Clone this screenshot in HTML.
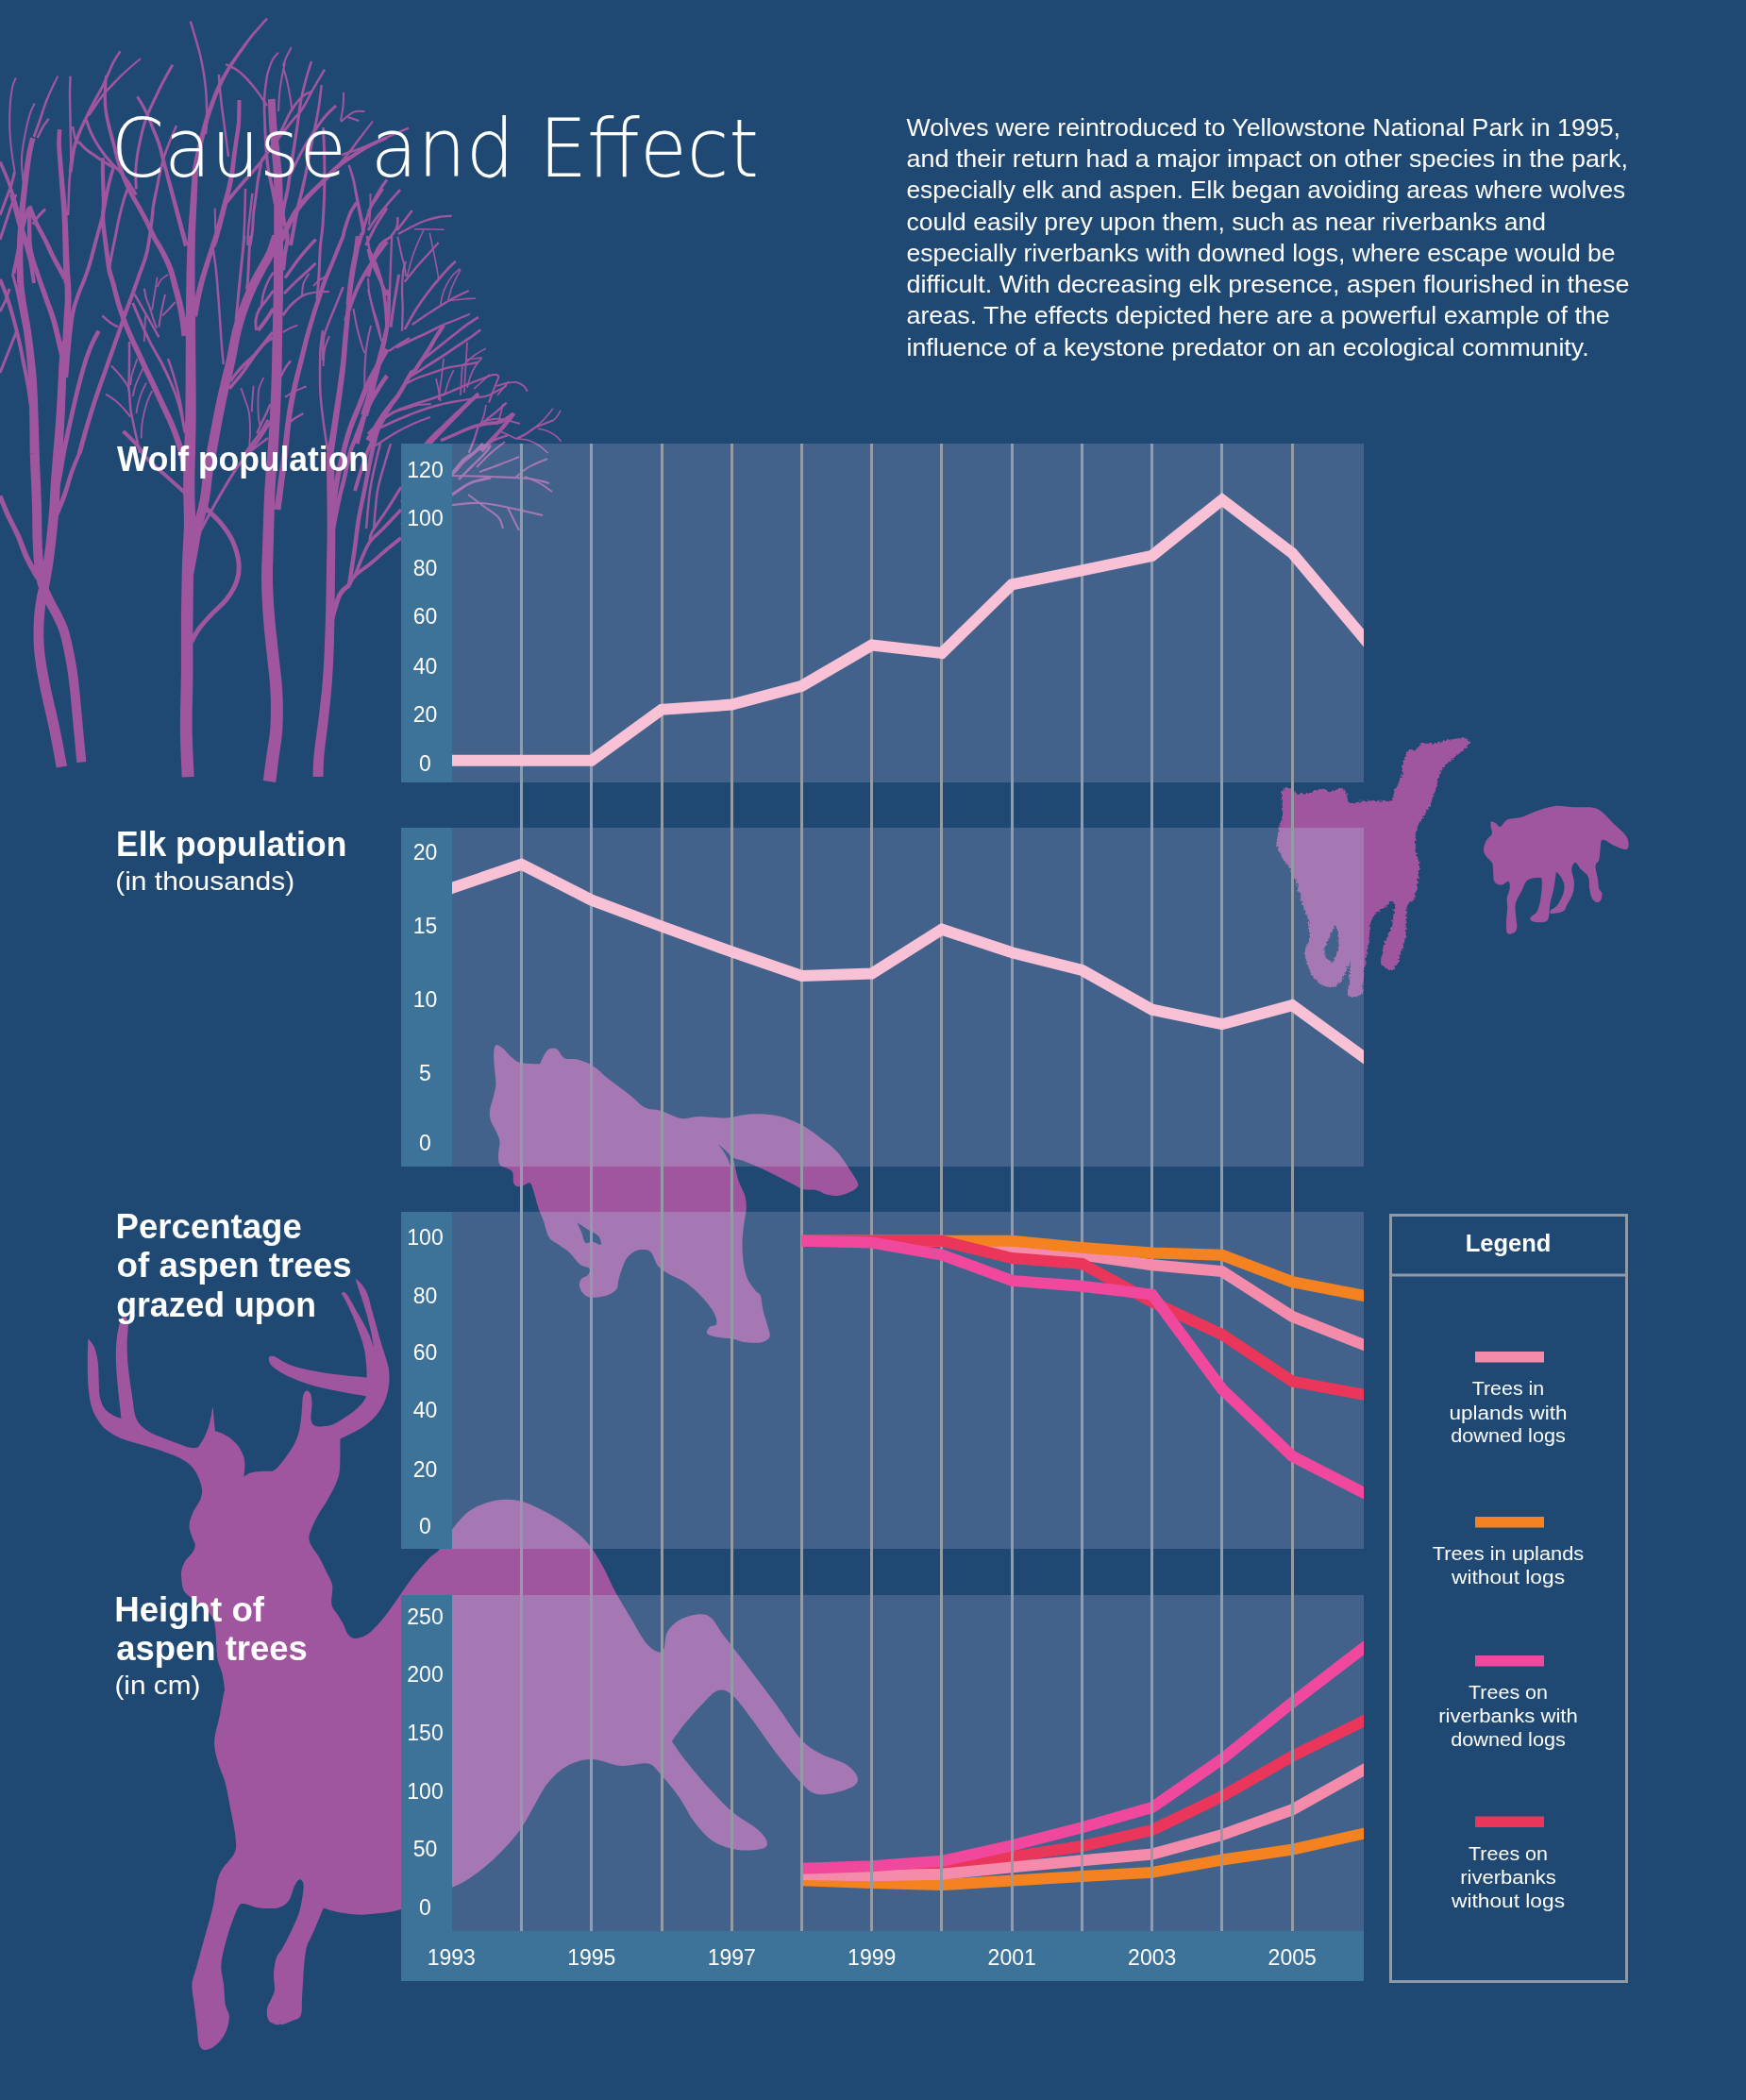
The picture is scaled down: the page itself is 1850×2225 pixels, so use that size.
<!DOCTYPE html>
<html lang="en"><head><meta charset="utf-8"><title>Cause and Effect</title>
<style>html,body{margin:0;padding:0;background:#1f4872}svg{display:block;will-change:transform}
text{font-family:"Liberation Sans",sans-serif;fill:#fff}
.b{font-weight:bold}.m{text-anchor:middle}.t{font-family:"DejaVu Sans Light","DejaVu Sans","Liberation Sans",sans-serif;font-weight:200}
</style></head><body>
<svg width="1850" height="2225" viewBox="0 0 1850 2225">
<rect width="1850" height="2225" fill="#1f4872"/>
<defs><g id="art">
<g fill="none" stroke="currentColor" stroke-linecap="butt" stroke-linejoin="round">
<path stroke-width="2.5" d="M74.6,80.7C74.5,83.6 74,89.1 74,98C74,106.9 74.4,122 74.6,134C74.8,146 75.4,160 75.2,170C75,180 73.9,184.3 73.4,194C72.9,203.7 72.4,222.3 72.2,228"/>
<path stroke-width="4" d="M0,296C1.2,299 4.8,307 7.2,314C9.6,321 12.2,330 14.4,338C16.6,346 18.6,354 20.4,362C22.2,370 23.7,378 25.3,386C26.9,394 28.8,403 30,410C31.2,417 32.1,425 32.5,428"/>
<path stroke-width="3" d="M13.2,290C14,293 16.4,301 18,308C19.6,315 21.5,325 22.9,332C24.3,339 25.9,347 26.5,350"/>
<path stroke-width="3" d="M0,395C1.7,390.8 7,377.5 10,370C13,362.5 16.7,353.3 18,350"/>
<path stroke-width="2.5" d="M39.7,146C40.7,144 43.7,137.4 45.7,134C47.7,130.6 50.7,127.2 51.7,125.8"/>
<path stroke-width="2" d="M25.3,200C24.9,195 22.8,179 22.9,170C23,161 24.5,154 25.9,146C27.3,138 29.5,128.1 31.3,122C33.1,115.9 35.8,111.6 36.7,109.5"/>
<path stroke-width="2" d="M15.6,182C15,178 12.9,166 12,158C11.1,150 10.4,142 10.2,134C10,126 10.3,117 10.8,110C11.3,103 12.2,96.6 13.2,92C14.2,87.4 16.2,84.1 16.8,82.5"/>
<path stroke-width="3.5" d="M0,171.5C0.8,173.3 3.2,178.5 4.8,182.3C6.4,186.1 8,189.9 9.6,194.3C11.2,198.7 12.8,203.8 14.4,208.8C16,213.8 17.6,218.8 19.2,224.4C20.8,230 22.2,236.4 24,242.4C25.8,248.4 29,257.5 30,260.5"/>
<path stroke-width="3" d="M0,228C1,225.3 4,217.3 6,212C8,206.7 10.4,201 12,196C13.6,191 15,184.3 15.6,182"/>
<path stroke-width="3" d="M0,254C1,251 4,242 6,236C8,230 10.2,223 12,218C13.8,213 16.2,208 17,206"/>
<path stroke-width="4" d="M30,220.8C29.2,223.4 26.7,230.8 25.3,236.4C23.9,242 22.8,248.5 21.6,254.5C20.4,260.5 19.2,266.6 18,272.5C16.8,278.4 15,287.1 14.4,290"/>
<path stroke-width="4" d="M12,206C12.8,209.1 15.2,218.3 16.8,224.4C18.4,230.5 19.8,236.4 21.6,242.4C23.4,248.4 25.9,254.5 27.7,260.5C29.5,266.5 31.1,271.9 32.5,278.5C33.9,285.1 35.4,296.4 36,300"/>
<path stroke-width="3" d="M48,221.4C46.6,222.9 41.9,227.7 39.7,230.4C37.5,233.1 35.7,236.4 34.9,237.6"/>
<path stroke-width="3" d="M0,330C1,328 4.3,322 6,318C7.7,314 9.3,308 10,306"/>
<path stroke-width="3" d="M91.4,127C92.2,129.2 94.2,135.8 96.2,140.2C98.2,144.6 100.8,149.2 103.4,153.4C106,157.6 109.1,161.9 111.9,165.5C114.7,169.1 117.7,172.2 120.3,175C122.9,177.8 124.9,179.3 127.5,182.3C130.1,185.3 133.2,189 136,193C138.8,197 142.9,204.2 144.3,206.4"/>
<path stroke-width="3" d="M83,149.8C84.4,151.2 88.6,155.9 91.4,158.3C94.2,160.7 97,162.3 99.8,164.3C102.6,166.3 104.9,168.1 108.3,170.3C111.7,172.5 118.3,176.3 120.3,177.5"/>
<path stroke-width="2.5" d="M77,134C77.5,136.3 79,145 80,148C81,151 82.5,151.3 83,152"/>
<path stroke-width="3" d="M136,198C135.2,200.4 132.6,207 131,212.4C129.4,217.8 127.7,224.4 126.3,230.4C124.9,236.4 123.9,242.5 122.7,248.5C121.5,254.5 120.2,260.5 119,266.5C117.8,272.5 116.1,281.5 115.5,284.5"/>
<path stroke-width="3" d="M140.7,321C142.3,324.8 147.2,336.7 150.4,344C153.6,351.3 156.6,358 160,364.6C163.4,371.2 167.4,377.2 170.8,383.8C174.2,390.4 177.6,397.6 180.4,404C183.2,410.4 185.6,416 187.6,422C189.6,428 191,433.9 192.4,440C193.8,446.1 195.4,455.3 196,458.4"/>
<path stroke-width="2.5" d="M142.5,311.7C144.2,314.7 149.5,323.9 152.8,329.7C156.1,335.5 159.8,341.9 162.4,346.5C165,351.1 167.4,355.6 168.4,357.4"/>
<path stroke-width="5" d="M203,679.7C204.3,677.4 207.4,670.9 211,666C214.6,661.1 219.7,655.6 224.6,650.4C229.5,645.2 235.8,640.6 240.2,634.8C244.6,628.9 248.9,621.8 251,615.3C253.1,608.8 253.7,602.9 252.9,595.7C252.1,588.5 249.1,579.1 246,572.3C242.9,565.5 238.5,559.9 234.3,554.7C230.1,549.5 224.4,544.8 220.7,541C217,537.2 213.4,533.5 212,532"/>
<path stroke-width="3" d="M211,565C214.2,559.1 223.6,541.2 230.4,529.4C237.2,517.6 244.8,504.6 252,494.2C259.2,483.8 267.9,474.4 273.4,466.9C278.9,459.4 281.9,454.1 285,449.3C288.1,444.5 290.8,439.9 292,438"/>
<path stroke-width="4" d="M197,523C193.5,519.8 182.6,510.1 175.8,504C169,497.9 161.4,491.9 156.2,486.4C151,480.9 148.7,475.7 144.5,470.8C140.3,465.9 133.1,459.3 130.8,457"/>
<path stroke-width="2.5" d="M178,380C179,383 182.2,392 184,398C185.8,404 187.4,410 188.8,416C190.2,422 191.4,428 192.4,434C193.4,440 194.4,449 194.8,452"/>
<path stroke-width="3" d="M182.8,68.6C181.2,71.5 176.2,80.3 173.2,86C170.2,91.7 167.4,97.6 164.8,103C162.2,108.4 159.6,113.8 157.6,118.6C155.6,123.4 154.2,127.2 152.8,131.8C151.4,136.4 150.3,140.8 149.1,146.2C147.9,151.6 146.4,158.3 145.5,164.3C144.6,170.3 143.9,176.3 143.7,182.3C143.5,188.3 144.2,197.4 144.3,200.4"/>
<path stroke-width="2.5" d="M225.3,260.8C225.9,265 227.8,275.8 228.9,286C230,296.2 231,310 231.9,322C232.8,334 233.5,347.3 234.3,358C235.1,368.7 236.3,381.3 236.7,386"/>
<path stroke-width="2.5" d="M201.8,22.6C202.7,25.5 205.3,34.1 207,40C208.7,45.9 210.6,52 212,58C213.4,64 214.6,70 215.6,76C216.6,82 217.4,88 218,94C218.6,100 218.8,106 219,112C219.2,118 219.2,125 219,130C218.8,135 218.2,140 218,142"/>
<path stroke-width="2.5" d="M231.9,79C232.1,81.5 232.5,88.5 233,94C233.5,99.5 234.2,106 234.9,112C235.6,118 236.5,124 237.3,130C238.1,136 238.9,142 239.7,148C240.5,154 241.6,163 242,166"/>
<path stroke-width="2.5" d="M239,68C240.9,69 247,71.4 250.5,73.7C254,76 257,79 260,82C263,85 266,88.6 268.6,91.8C271.2,95 273.4,98 275.8,101.4C278.2,104.8 281.8,110.2 283,112"/>
<path stroke-width="3" d="M259,250C258.6,254 257.3,266 256.5,274C255.7,282 254.8,290 254,298C253.2,306 252.4,315 251.7,322C251,329 250.3,337 250,340"/>
<path stroke-width="3" d="M265,250C264.8,254 264.1,266 263.7,274C263.3,282 262.9,292.6 262.5,298C262.1,303.4 261.5,305.1 261.3,306.5"/>
<path stroke-width="2.5" d="M260,200C259.9,203.4 259.7,214.1 259.5,220.5C259.3,226.9 259.3,231.9 259,238.5C258.7,245.1 257.9,256.4 257.7,260"/>
<path stroke-width="2.5" d="M267.4,204.9C267,208.5 265.7,219.9 265,226.5C264.3,233.1 263.4,238.9 263,244.5C262.6,250.1 262.6,257.4 262.5,260"/>
<path stroke-width="3" d="M277,171C276.4,174.2 274.4,184.2 273.4,190.4C272.4,196.7 271.8,202.5 271,208.5C270.2,214.5 269.2,220.5 268.6,226.5C268,232.5 268,238.9 267.4,244.5C266.8,250.1 265.4,257.4 265,260"/>
<path stroke-width="2" d="M227.7,220.5L228.3,245"/>
<path stroke-width="2" d="M302,66.5C301.4,69.1 299.6,76.4 298.6,82C297.6,87.6 296.6,94 296,100C295.4,106 295.2,115 295,118"/>
<path stroke-width="2" d="M308.8,50C307.9,51.8 304.9,57.2 303.4,60.5C301.9,63.8 300.4,68.4 299.8,70"/>
<path stroke-width="2" d="M300.4,72.5C301.1,75.1 303.4,82.8 304.6,88C305.8,93.2 306.8,99 307.6,104C308.4,109 309.2,115.7 309.5,118"/>
<path stroke-width="3" d="M308,184C310,180 316.2,167 320,160C323.8,153 327,148 331,142C335,136 339.8,129 344,124C348.2,119 354,114 356,112"/>
<path stroke-width="2.5" d="M362,164C365,163 374,160.2 380,158C386,155.8 389.2,154.4 398,150.7C406.8,147 427.2,138.1 433,135.6"/>
<path stroke-width="3" d="M342.5,135C342.7,140.2 343.5,154.8 343.7,166C343.9,177.2 344,189.9 343.7,202C343.4,214.1 342.7,228.8 342,238.5C341.3,248.2 340.2,251.4 339.5,260C338.8,268.6 338.6,280.5 338,290C337.4,299.5 336.3,312.5 336,317"/>
<path stroke-width="2" d="M364,97.8C363.9,100.2 364.1,107 363.6,112C363.1,117 361.4,125.3 361,128"/>
<path stroke-width="2" d="M361,129C363.2,127.3 370.2,120.6 374.4,118.8C378.6,117 384.4,118.1 386.4,118"/>
<path stroke-width="2" d="M368.4,124L380.4,128"/>
<path stroke-width="3.5" d="M302,294.5C304,291.7 310,282.9 314,277.7C318,272.4 322.6,267 326,263C329.4,259 333.2,255.2 334.7,253.6"/>
<path stroke-width="3" d="M301,311C303.2,308.8 309.8,302 314,298C318.2,294 322.6,290.2 326,287C329.4,283.8 333.2,280.2 334.7,278.9"/>
<path stroke-width="2" d="M320,313.7C320.2,311.5 320.2,304.5 321.5,300.5C322.8,296.5 326.5,291.5 327.5,289.7"/>
<path stroke-width="2" d="M332,303C333,302 335.7,298.7 338,297C340.3,295.3 344.7,293.4 346,292.7"/>
<path stroke-width="2" d="M299.8,352C301.2,351.2 305.4,348.7 308,347.4C310.6,346.1 314.2,344.9 315.5,344.4"/>
<path stroke-width="2.5" d="M297.4,399C298.4,397.2 301.6,391.1 303.4,388.3C305.2,385.5 307.2,383.3 308,382.3"/>
<path stroke-width="2" d="M302,420.8C303.6,419.8 308.1,416.7 311.9,414.8C315.6,412.9 322.4,410.3 324.5,409.4"/>
<path stroke-width="2.5" d="M302.8,451C304.3,449.8 308.8,445.8 311.9,443.6C315,441.4 319.9,438.9 321.5,438"/>
<path stroke-width="2.5" d="M289.6,288.5C288.7,290.1 285.7,294.4 284,298C282.3,301.6 280.6,305.8 279.4,310C278.2,314.2 277.4,321.2 277,323.4"/>
<path stroke-width="3" d="M290,307.7C288.6,309.5 284.4,315.2 281.8,318.6C279.2,322 276.4,324.6 274.6,328C272.8,331.4 271.5,335.3 271,339C270.5,342.7 271.5,348.2 271.6,350"/>
<path stroke-width="4" d="M289.6,327C288.3,329 284.5,335.2 281.8,339C279.1,342.8 274.8,348.2 273.4,350"/>
<path stroke-width="3.5" d="M289,352C287.4,354 282.6,360 279.4,364C276.2,368 273.2,372.3 269.8,376C266.4,379.7 262.3,382.7 259,386C255.7,389.3 252.5,393 250,396C247.5,399 245,402.7 244,404"/>
<path stroke-width="3.5" d="M290,358C289,358.4 286.6,358.7 284,360.7C281.4,362.7 277.6,366.4 274.6,370C271.6,373.6 268.8,378 266,382C263.2,386 260.1,390.8 257.7,394C255.3,397.2 254.1,398.5 251.7,401.5C249.2,404.5 244.4,410.2 243,412"/>
<path stroke-width="2.5" d="M363.6,304C362.4,307 358.8,316 356.4,322C354,328 351.2,334 349,340C346.8,346 344.2,351 343,358C341.8,365 342.2,378 342,382"/>
<path stroke-width="2.5" d="M342,350C341.6,353.3 340,362.7 339.5,370C339,377.3 339,386 339,394C339,402 339,410 339.5,418C340,426 341,433.9 342,442C343,450.1 344.5,460.2 345.5,466.5C346.5,472.8 347.6,477.8 348,480"/>
<path stroke-width="2" d="M349,356C348.2,358.3 345.1,364.7 344,370C342.9,375.3 342.8,385 342.5,388"/>
<path stroke-width="1.8" d="M255.3,411C256.1,413.2 258.6,420.2 260,424.4C261.4,428.6 262.9,431.4 263.7,436.4C264.5,441.4 264.9,448.5 265,454.5C265.1,460.5 264.4,469.5 264.3,472.5"/>
<path stroke-width="1.8" d="M268.6,408.8C268.4,411.4 267.7,419.8 267.4,424.4C267.1,429 266.9,434.4 266.8,436.4"/>
<path stroke-width="1.8" d="M279.4,400C278.6,401.8 275.6,406.9 274.6,411C273.6,415.1 273.5,419.2 273.4,424.4C273.3,429.6 273.6,437.8 274,442.4C274.4,447 275.5,450.4 275.8,452"/>
<path stroke-width="2.5" d="M286.6,428C285.8,429.8 283.4,435.4 281.8,438.8C280.2,442.2 278.6,445.1 277,448.5C275.4,451.9 273,457.5 272.2,459.3"/>
<path stroke-width="3" d="M284,444.8C282.8,446.8 279.4,453.3 277,456.9C274.6,460.5 272,463.5 269.8,466.5C267.6,469.5 265.3,472.8 263.7,475C262.1,477.2 260.6,479.2 260,480"/>
<path stroke-width="2.5" d="M284,464C282.4,465.2 277.8,468.6 274.6,471C271.4,473.4 266.6,477.2 265,478.5"/>
<path stroke-width="2.5" d="M378,250C377.6,253 376.6,262 375.6,268C374.6,274 373,280 372,286C371,292 370.3,298 369.6,304C368.9,310 368.1,319 367.8,322"/>
<path stroke-width="4" d="M366,340C367,337 369.8,328 372,322C374.2,316 376.6,309.6 379.2,304C381.8,298.4 384.4,293.9 387.6,288.5C390.8,283.1 394.8,277.1 398.5,271.7C402.2,266.3 408.1,258.6 410,256"/>
<path stroke-width="2.5" d="M388.8,250C389.4,253 390.8,262 392.4,268C394,274 396.5,280.4 398.5,286C400.5,291.6 402.6,297.7 404.5,301.7C406.4,305.7 409.1,308.6 410,310"/>
<path stroke-width="2" d="M390,294.5C390.2,297.1 390.4,304.4 391.2,310C392,315.6 393.5,322 394.9,328C396.3,334 398.1,340.3 399.7,346C401.3,351.7 403.7,359.3 404.5,362"/>
<path stroke-width="2" d="M374.4,327C375,330.2 376.6,339.8 378,346C379.4,352.2 381.4,359.3 382.8,364C384.2,368.7 385.8,372.3 386.4,374"/>
<path stroke-width="2" d="M393,345C392.5,347.2 390.9,353.2 390,358C389.1,362.8 388.2,368 387.6,374C387,380 386.6,386.6 386.4,394C386.2,401.4 386.4,414.3 386.4,418.4"/>
<path stroke-width="2" d="M392.4,205C392.4,207.6 392.6,214.9 392.4,220.5C392.2,226.1 391.2,235.5 391,238.5"/>
<path stroke-width="3" d="M410,190.4C408.7,192.3 404.9,197 402,202C399.1,207 395,214.4 392.4,220.5C389.8,226.6 388.4,231.9 386.4,238.5C384.4,245.1 381.4,256.4 380.4,260"/>
<path stroke-width="3" d="M410,220.5C408.1,223.5 402.2,231.9 398.5,238.5C394.8,245.1 389.4,256.4 387.6,260"/>
<path stroke-width="5.5" d="M352,545C352.8,539.2 355.1,520.8 357,510C358.9,499.2 361.3,489.2 363.6,480C365.9,470.8 368,462.8 370.8,454.5C373.6,446.2 377.2,438.4 380.4,430.4C383.6,422.4 386.8,413.4 390,406.4C393.2,399.4 396.4,394.4 399.7,388.3C403,382.2 408.3,373.1 410,370"/>
<path stroke-width="4.5" d="M353,560C354,555 357.2,538.3 359,530C360.8,521.7 362,518.3 364,510C366,501.7 368.7,487.7 370.8,480C372.9,472.3 374.8,469.2 376.8,464C378.8,458.8 380.8,453.5 382.8,448.5C384.8,443.5 386.8,438.4 388.8,434C390.8,429.6 392.7,426 394.9,422C397.1,418 399.5,414 402,410C404.5,406 408.7,400 410,398"/>
<path stroke-width="4" d="M376,520C377,516.7 379.9,506.7 382,500C384.1,493.3 386.7,485.6 388.8,480C390.9,474.4 392.7,471.2 394.9,466.5C397.1,461.8 399.5,456.8 402,452C404.5,447.2 408.7,440 410,437.6"/>
<path stroke-width="5" d="M352,655C353.3,650.8 357,635.8 360,630C363,624.2 368.3,621.7 370,620"/>
<path stroke-width="4" d="M370,620C371,618.3 372,614 376,610C380,606 388.3,600.7 394,596C399.7,591.3 404.8,586.3 410,582C415.2,577.7 422.5,572 425,570"/>
<path stroke-width="4.5" d="M370,620C370.5,616.7 372,606.7 373,600C374,593.3 374.8,588.3 376,580C377.2,571.7 378.3,560 380,550C381.7,540 383.7,531.7 386,520C388.3,508.3 391.3,491.7 394,480C396.7,468.3 398.7,458.3 402,450C405.3,441.7 412,433.3 414,430"/>
<path stroke-width="3.5" d="M376,610C377.3,606.7 381.3,596 384,590C386.7,584 388.3,579 392,574C395.7,569 400.5,565.7 406,560C411.5,554.3 421.8,543.3 425,540"/>
<path stroke-width="3" d="M392,574C392.3,572.3 391,569.7 394,564C397,558.3 404.8,548 410,540C415.2,532 422.5,520 425,516"/>
<path stroke-width="2.5" d="M388,560C388.7,553.3 390.3,531.7 392,520C393.7,508.3 396.2,498.3 398,490C399.8,481.7 402.2,473.3 403,470"/>
<path stroke-width="2.5" d="M396,560C396.7,553.3 398,531.7 400,520C402,508.3 405.7,498.3 408,490C410.3,481.7 413,473.3 414,470"/>
<path stroke-width="5.1" d="M378,470L386,440"/>
<path stroke-width="3.5" d="M410,346.7C409.8,343.4 409.4,333.4 408.7,326.7C408,320 407.3,313.4 406,306.7C404.7,300 402.5,292.3 400.7,286.7C398.9,281.1 397.1,277.1 395.3,273.3C393.5,269.5 390.9,265.6 390,264"/>
<path stroke-width="2.3" d="M412,340C412.1,336.7 412.5,326.7 412.7,320C412.9,313.3 413.1,306.7 413.3,300C413.5,293.3 413.8,286.7 414,280C414.2,273.3 414.5,264.9 414.7,260C414.9,255.1 415.2,252.2 415.3,250.7"/>
<path stroke-width="3.1" d="M414,346.7C414.4,343.4 415.7,333.4 416.7,326.7C417.7,320 419,312.7 420,306.7C421,300.7 422.2,293.4 422.7,290.7"/>
<path stroke-width="2.3" d="M426,350.7C426.1,346.7 426.7,334 426.7,326.7C426.7,319.4 425.9,313.4 426,306.7C426.1,300 426.6,291.6 427.3,286.7C428,281.8 429.6,278.6 430,277"/>
<path stroke-width="2.7" d="M420.7,244L436.7,223"/>
<path stroke-width="2.3" d="M422,248C424.4,246.7 432,242.3 436.7,240C441.4,237.7 445.3,235.7 450,234C454.7,232.3 459.9,230.9 464.7,230C469.5,229.1 476.4,228.9 478.7,228.7"/>
<path stroke-width="1.6" d="M439,242.7C441.9,242.8 451.4,242.9 456.7,243C462,243.1 468.4,243.2 470.7,243.3"/>
<path stroke-width="2.7" d="M390,244C391.3,242 394.7,236.5 398,232C401.3,227.5 405.7,222.2 410,217C414.3,211.8 421.7,203.7 424,201"/>
<path stroke-width="2.3" d="M390,224C391.3,222 395.3,216 398,212C400.7,208 404.7,202 406,200"/>
<path stroke-width="3.1" d="M390,264C390.4,265.8 391.4,270.9 392.7,274.7C394,278.5 396,282.3 398,286.7C400,291.1 402.7,296.6 404.7,301C406.7,305.4 409.1,311 410,313"/>
<path stroke-width="2" d="M390,306.7C390.9,310 393.5,320.5 395.3,326.7C397.1,332.9 399.4,338.9 400.7,344C402,349.1 402.9,354.8 403.3,357"/>
<path stroke-width="2" d="M421.3,250.7C421.9,253.4 423.5,261.4 424.7,266.7C425.9,272 427.8,278.3 428.7,282.7C429.6,287.1 429.8,291.3 430,293"/>
<path stroke-width="1.6" d="M448.7,244C447.8,246 445.1,251.8 443.3,256C441.5,260.2 439.6,264.6 438,269C436.4,273.4 435.1,278.7 434,282.7C432.9,286.7 431.8,291.3 431.3,293"/>
<path stroke-width="1.6" d="M455.3,246.7C455.8,248.9 457.1,255.6 458,260C458.9,264.4 459.8,268.6 460.7,273C461.6,277.4 462.6,282.9 463.3,286.7C464,290.5 464.5,294.4 464.7,296"/>
<path stroke-width="2.3" d="M464.7,257C462.9,259 457.6,265 454,269C450.4,273 446.3,277.2 443,281C439.7,284.8 436.4,289.1 434,292C431.6,294.9 429.6,297.6 428.7,298.7"/>
<path stroke-width="2.7" d="M428.7,349C430.7,345.5 436.7,334.4 440.7,328C444.7,321.6 448.7,316 452.7,310.7C456.7,305.4 460.9,300.4 464.7,296C468.5,291.6 472.3,287.2 475.3,284C478.3,280.8 481.5,277.9 482.7,276.7"/>
<path stroke-width="2.3" d="M436.7,344C438.9,342.4 445.3,337.8 450,334.7C454.7,331.6 460.5,328 464.7,325.3C468.9,322.6 471.8,320.8 475.3,318.7C478.9,316.6 482.4,314.8 486,313C489.6,311.2 494.9,308.8 496.7,308"/>
<path stroke-width="1.6" d="M475,318.7C477.5,318.4 485.2,317.4 490,317C494.8,316.6 501.7,316.2 504,316"/>
<path stroke-width="1.6" d="M466.7,324C467,322.2 467.7,316.6 468.7,313C469.7,309.4 470.9,306.2 472.7,302.7C474.5,299.2 476.9,295 479.3,292C481.7,289 486,285.9 487.3,284.7"/>
<path stroke-width="1.6" d="M474.7,318.7C475.2,316.7 476.6,310.7 478,306.7C479.4,302.7 481.6,298.3 483.3,294.7C485,291.1 487.2,286.9 488,285.3"/>
<path stroke-width="2.3" d="M412,372C414,370.7 420.3,366.3 424,364C427.7,361.7 432.3,359 434,358"/>
<path stroke-width="4.2" d="M430,405C430.7,403.8 432.2,400.4 434,398C435.8,395.6 438.7,393.2 440.7,390.7C442.7,388.1 443.8,386 446,382.7C448.2,379.4 451.3,375 454,370.7C456.7,366.4 459.3,361.3 462,357C464.7,352.7 468.7,346.8 470,344.7"/>
<path stroke-width="2.7" d="M446,382.7C448.2,380.9 454.9,375.6 459.3,372C463.8,368.4 468.2,364.9 472.7,361.3C477.1,357.8 482,353.8 486,350.7C490,347.6 493.2,345.1 496.7,342.7C500.1,340.2 505,337.1 506.7,336"/>
<path stroke-width="2.7" d="M435.3,398.7C437.8,397.1 445.1,392.4 450,389.3C454.9,386.2 459.6,383.3 464.7,380C469.8,376.7 475.4,372.9 480.7,369.3C486,365.8 491.9,362 496.7,358.7C501.5,355.4 507.2,350.9 509.3,349.3"/>
<path stroke-width="2.3" d="M427.3,408C430,406.7 438,402.2 443.3,400C448.6,397.8 454,396.5 459.3,394.7C464.6,392.9 470,390.6 475.3,389.3C480.6,388 486.2,387.6 491.3,386.7C496.4,385.8 503.6,384.4 506,384"/>
<path stroke-width="1.6" d="M491,386.7C493.1,384.9 499.4,378.9 503.3,376C507.2,373.1 512.8,370.4 514.7,369.3"/>
<path stroke-width="1.6" d="M494,381C495.3,380.8 499.2,380.3 502,380C504.8,379.7 509.2,379.2 510.7,379"/>
<path stroke-width="2" d="M528.7,398.7C527.8,401.1 524.8,408.3 523,413C521.2,417.7 518.8,424.4 518,426.7"/>
<path stroke-width="2" d="M526,409C527.8,408.5 533.2,406.7 536.7,406C540.2,405.3 544,404.5 547,405C550,405.5 553,407.4 555,409C557,410.6 558.1,413.8 558.7,414.7"/>
<path stroke-width="4.2" d="M510,478C511.3,476.5 514.7,472.7 518,469C521.3,465.3 525.5,461.2 530,456C534.5,450.8 542.2,441 544.7,438"/>
<path stroke-width="2" d="M415,437C417.5,436.3 425.3,434.3 430,433C434.7,431.7 438.6,429.8 443,429C447.4,428.2 454.4,428.2 456.7,428"/>
<path stroke-width="2.3" d="M398,472C401.7,469.7 413,462 420,458C427,454 434,450.7 440,448C446,445.3 453.3,443 456,442"/>
<path stroke-width="1.7" d="M470,380C469.8,382.2 469.2,388.3 468.7,393C468.1,397.7 467.4,402.8 466.7,408C466,413.2 465,421.3 464.7,424"/>
<path stroke-width="1.7" d="M495,362.7C494.8,365.6 494.4,373.8 494,380C493.6,386.2 493,394 492.7,400C492.4,406 492.1,413.3 492,416"/>
<path stroke-width="1.7" d="M462,401C462.4,403 463.9,409 464.7,413C465.5,417 466.4,423 466.7,425"/>
<path stroke-width="1.7" d="M480.7,392C479.8,394.2 476.6,400.6 475,405C473.4,409.4 471.7,416.4 471,418.7"/>
<path stroke-width="1.7" d="M490,386.7C489.8,388.9 489.3,394.7 489,400C488.7,405.3 488.2,415.6 488,418.7"/>
<path stroke-width="1.7" d="M510.7,379C509.4,380.7 505.1,385.5 503,389C500.9,392.5 499.3,396.4 498,400C496.7,403.6 495.5,408.9 495,410.7"/>
<path stroke-width="1.7" d="M518.7,396.7C517.2,398.1 512.8,402.4 510,405C507.2,407.6 503.3,410.8 502,412"/>
<path stroke-width="1.7" d="M539,404C538,405.3 534.7,409.6 532.7,412C530.7,414.4 528,417.6 527,418.7"/>
<path stroke-width="1.7" d="M533,428C532.5,430 531,436.3 530,440C529,443.7 527.5,448.3 527,450"/>
<path stroke-width="1.7" d="M515,429C514.6,430.8 513.8,436.4 512.7,440C511.7,443.6 509.4,448.9 508.7,450.7"/>
<path stroke-width="1.7" d="M530,457C531.5,457.7 536.2,459.7 539,461C541.8,462.3 545.7,464.3 547,465"/>
<path stroke-width="2.3" d="M536.7,426.7C534.4,428.7 527,435.4 523,438.7C519,442 514.4,445.4 512.7,446.7"/>
<path stroke-width="2" d="M506,450.7C508,449.8 513.8,446.1 518,445C522.2,443.9 526.8,443.7 531,444C535.2,444.3 539.7,445.9 543,446.7C546.3,447.5 549.7,448.6 551,449"/>
<path stroke-width="2.3" d="M547,465C548.6,464.2 553.4,462 556.7,460C560,458 563.7,454.8 567,453C570.3,451.2 573.4,450.3 576.7,449C580,447.7 585.3,445.7 587,445"/>
<path stroke-width="1.6" d="M567,453C568.6,451.5 573.5,447.4 576.7,444C579.9,440.6 584.5,434.6 586,432.7"/>
<path stroke-width="1.6" d="M587,445C587.7,444.2 589.8,441.7 591,440C592.2,438.3 593.5,435.6 594,434.7"/>
<path stroke-width="1.6" d="M570,454C571.8,454.5 577.4,455.6 580.7,457C584,458.4 587.7,460.9 590,462.7C592.3,464.5 593.9,467.1 594.7,468"/>
<path stroke-width="1.6" d="M548.7,464.7C550.7,465 557,465.5 560.7,466.7C564.4,467.9 567.7,469.8 571,472C574.3,474.2 579.1,478.7 580.7,480"/>
<path stroke-width="2.3" d="M539,461C536.3,461.9 527.8,464.4 523,466.7C518.2,469 513.5,472.5 510,474.7C506.5,476.9 503.3,479.1 502,480"/>
<path stroke-width="2.3" d="M507,450.7C506.3,452.9 504.7,459.1 503,464C501.3,468.9 497.8,477.3 496.7,480"/>
<path stroke-width="3.5" d="M425,532C429.5,529.3 443,521 452,516C461,511 472.7,506.3 479,502C485.3,497.7 486.2,493.7 490,490C493.8,486.3 498.3,483.3 502,480C505.7,476.7 510.3,471.7 512,470"/>
<path stroke-width="3" d="M425,556C429.5,553.3 443,545.3 452,540C461,534.7 471.3,528.7 479,524C486.7,519.3 491.2,515 498,512C504.8,509 516.3,507 520,506"/>
<path stroke-width="2.2" d="M479,504C485.8,504.2 506.5,504.5 520,505C533.5,505.5 549.7,505.8 560,507C570.3,508.2 578.3,511.2 582,512"/>
<path stroke-width="2.2" d="M479,535C484.2,534.7 499.8,532.5 510,533C520.2,533.5 529.2,535.8 540,538C550.8,540.2 569.2,544.7 575,546"/>
<path stroke-width="2" d="M505,495C507.5,492.5 515,484.5 520,480C525,475.5 532.5,470 535,468"/>
<path stroke-width="2" d="M508,500C511.7,498.7 523,494.7 530,492C537,489.3 546.7,485.3 550,484"/>
<path stroke-width="2" d="M545,507C547.5,505 554.2,498.5 560,495C565.8,491.5 576.7,487.5 580,486"/>
<path stroke-width="2" d="M556,505C558.7,506.2 567.2,509.3 572,512C576.8,514.7 582.8,519.5 585,521"/>
<path stroke-width="2" d="M496,524C498.7,526 506.7,532 512,536C517.3,540 524.5,544 528,548C531.5,552 532.2,558 533,560"/>
<path stroke-width="2" d="M538,538C539.2,540.3 543,548 545,552C547,556 549.2,560.3 550,562"/>
<path stroke-width="2.5" d="M480,500C482,497.7 488.3,489.3 492,486C495.7,482.7 500.3,481 502,480"/>
<path stroke-width="2.5" d="M486,508C488.3,505.7 495.3,498.7 500,494C504.7,489.3 510.7,483.7 514,480C517.3,476.3 519,473.3 520,472"/>
<path stroke-width="2.5" d="M138.3,434C138.1,431 137.3,420 137,416C136.7,412 136.5,415 136.5,410C136.5,405 136.9,394 137,386C137.1,378 137,366 137,362"/>
<path stroke-width="2.5" d="M148,480C147.6,478 146.5,472.7 145.5,468C144.5,463.3 143.2,457.7 142,452C140.8,446.3 138.9,437 138.3,434"/>
<path stroke-width="2" d="M117.9,387.4C119.5,389.2 124.7,394.6 127.5,398C130.3,401.4 133.1,404.9 134.7,407.9C136.3,410.9 136.6,414.6 137,416"/>
<path stroke-width="2" d="M111.9,417.5C113.7,418.7 119.5,422.1 122.7,424.7C125.9,427.3 128.4,430.2 131,433C133.6,435.8 137.1,440.2 138.3,441.6"/>
<path stroke-width="3" d="M130.5,457C131.6,458 134.7,460.8 137,463C139.3,465.2 143.1,469.2 144.3,470.4"/>
<path stroke-width="2.5" d="M108.3,334.5C109.7,335.7 113.9,339.7 116.7,341.7C119.5,343.7 123.6,345.7 125,346.5"/>
<path stroke-width="2" d="M152.8,305.6C153.2,307.4 154,313.1 155,316.5C156,319.9 157.6,322.4 158.8,326C160,329.6 161.2,334.4 162.4,338C163.6,341.6 165.4,346.1 166,347.7"/>
<path stroke-width="1.8" d="M154,334.5C153.9,337.1 153.6,345.4 153.4,350C153.2,354.6 152.9,360 152.8,362"/>
<path stroke-width="1.8" d="M145.5,380C144.9,381.7 143,387 142,390C141,393 140.1,395 139.5,398C138.9,401 138.5,406.3 138.3,408"/>
<path stroke-width="1.8" d="M151.6,390C150.8,391.8 148.1,397.4 146.7,400.7C145.3,404 144,406.8 143,410C142,413.2 141.1,418.3 140.7,420"/>
<path stroke-width="1.8" d="M155,405.5C154.2,407.1 151.8,411.6 150.4,415C149,418.4 147.7,422.2 146.7,426C145.7,429.8 144.7,436 144.3,438"/>
<path stroke-width="1.8" d="M161.2,414C160.4,415.8 157.8,420.9 156.4,424.7C155,428.5 153.8,432.5 152.8,436.7C151.8,440.9 150.9,445.4 150.4,450C149.9,454.6 149.8,462 149.7,464.4"/>
<path stroke-width="1.8" d="M166.6,293.6C166.3,295.6 165.5,301.2 164.8,305.6C164.1,310 163,316.2 162.4,320C161.8,323.8 161.4,327.1 161.2,328.5"/>
<path stroke-width="2" d="M175,312C174.5,314.2 172.9,320.7 172,325C171.1,329.3 170.2,334.4 169.6,338C169,341.6 168.6,345.1 168.4,346.5"/>
<path stroke-width="2" d="M185.8,320C184.5,321.4 180.3,326.1 178,328.5C175.7,330.9 173,333.5 172,334.5"/>
<path stroke-width="1.8" d="M178,291C176.8,291.8 172.9,293.8 171,296C169.1,298.2 167.3,302.7 166.6,304"/>
</g>
<path fill="currentColor" d="M71.1,811.5L69,800.8L66.2,785.5L63.1,770.3L60.2,757.1L57.1,744.1L54.3,731.3L51.6,718L49.2,704.7L47.4,692.8L46.6,682.7L46.3,673.8L46.4,665.1L46.7,656.7L47.4,648.8L48.3,640.8L49.7,632.7L51.5,624.4L53.2,616L54.6,607.7L55.9,599.5L57.2,590.7L58.4,580.7L59.6,570.2L60.7,560.5L61.4,552.4L62.1,545.1L62.6,537.3L63.1,528.7L63.5,519.6L64.1,510.3L64.8,499.5L65.7,488.3L66.3,480.4L56.3,479.6L55.7,487.5L54.8,498.7L53.9,509.7L53.4,519.1L52.9,528.1L52.4,536.7L51.8,544.3L51.2,551.5L50.3,559.5L49.3,569.1L48.1,579.5L46.8,589.3L45.5,597.9L44.2,606L42.8,614L41.1,622.2L39.2,630.6L37.7,639.2L36.6,647.7L35.9,656.1L35.6,664.9L35.5,673.9L35.7,683.3L36.6,694L38.3,706.5L40.7,720L43.3,733.5L46.2,746.6L49.2,759.6L52.1,772.7L55,787.6L57.8,802.8L59.7,813.5Z M41.7,479.9L41.5,471.2L41.1,458.6L40.7,445.9L40.3,433.8L39.9,421.5L39.3,409.8L38.6,399.2L37.7,389.4L36.6,379.6L35.5,369.5L34.2,359.5L32.8,349.4L31.1,339L29.2,328.6L27.6,319.5L26.5,311.4L25.6,304.4L25.1,299.6L18.1,300.4L18.6,305.2L19.4,312.3L20.4,320.5L21.8,329.9L23.5,340.3L25,350.6L26.3,360.5L27.4,370.5L28.4,380.4L29.2,390.2L29.9,399.9L30.5,410.2L30.9,421.8L31.1,434L31.3,446.1L31.5,458.8L31.6,471.4L31.7,480.1Z M25.1,299.9L24.8,291.3L24.4,279.1L24.3,266.6L24.7,254.6L25.3,242.3L26.1,230.6L26.9,220L27.9,210.1L28.9,200.7L29.9,192.1L30.8,184L31.8,176.7L32.7,170.1L33.7,164.1L34.7,158.9L35.7,154L36.8,149.8L37.6,146.9L32.2,145.5L31.4,148.4L30.3,152.7L29.1,157.7L28.1,163.1L27.1,169.2L26,175.9L25,183.3L23.9,191.4L22.9,200.1L21.8,209.4L20.7,219.4L19.7,230.2L18.9,241.9L18.1,254.3L17.7,266.4L17.6,279.1L17.9,291.5L18.1,300.1Z M91.3,807.1L90.2,795.3L88.6,778.4L87,761.2L85.5,744.9L83.9,728.1L82,712.3L79.5,697.6L76.8,684L74.1,672.6L71.7,664.5L69.2,658.5L66.5,652.8L63.2,646.3L59.7,639.9L56.5,633.8L53.7,628L51.3,622.5L49.3,616.7L47.9,610.2L46.8,603.1L46,595.5L45.3,587.5L44.8,579.1L44.5,569.9L44.3,559.6L44.2,548.5L44,536.9L43.5,524.1L43,511L42.5,499.8L42.1,491.1L41.9,484.4L41.7,479.8L31.7,480.2L31.9,484.8L32.2,491.5L32.5,500.2L33,511.4L33.6,524.5L34,537.1L34.2,548.6L34.3,559.7L34.5,570.1L34.9,579.6L35.3,588.2L36,596.5L36.9,604.4L38,612L39.7,619.3L41.9,626.1L44.6,632.2L47.5,638.2L50.8,644.6L54.4,651L57.5,657.2L60,662.6L62.2,667.8L64.5,675.2L67,686.1L69.7,699.4L72,713.7L73.9,729.2L75.5,745.8L77,762.2L78.7,779.4L80.2,796.3L81.3,808.1Z M66.3,480.4L66.8,471.6L67.6,459.1L68.3,446.3L68.9,434.2L69.3,421.8L69.8,410.2L70,399.3L70.3,389.1L70.7,380.4L71.6,373L72.7,366.9L73.5,362.7L66.1,361.3L65.2,365.5L64,371.8L62.9,379.6L62.2,388.7L61.8,399L61.2,409.8L60.6,421.4L59.9,433.7L59.1,445.7L58.1,458.4L57.1,470.9L56.3,479.6Z M70.5,384.6L71.3,378.9L72.5,370.8L73.4,362.3L73.9,354.3L74.2,346.2L74.5,338.2L74.9,330.2L75.4,322.2L75.6,314L75.3,305L74.7,296L74.2,289.8L67.8,290.2L68.1,296.4L68.6,305.3L68.8,314L68.6,321.8L68,329.8L67.5,337.8L67.1,345.9L66.7,354L66.2,361.7L65.2,369.8L64,377.8L63.1,383.4Z M74.5,299.9L74.1,291.3L73.6,279L73,266.4L72.6,254.3L72.1,242L71.6,230.2L70.8,219.7L69.9,209.9L68.9,200.2L68,189.7L67,179.2L66.2,170.1L65.6,163.1L65.1,157.4L64.9,152.2L64.9,146.5L65.2,141.1L65.3,137.3L60.9,137.1L60.6,140.8L60.3,146.3L60.1,152.2L60.3,157.7L60.7,163.5L61.2,170.5L61.9,179.7L62.7,190.2L63.5,200.6L64.3,210.4L65,220.2L65.6,230.6L66,242.2L66.3,254.5L66.6,266.6L66.9,279.2L67.3,291.5L67.5,300.1Z M54.6,567L56.6,561.5L59.5,553.6L62.4,546L65,539.6L67.6,533.2L70.3,526.2L72.9,517.9L75.5,508.9L78.1,500.7L81,493L83.9,485.8L86,480.8L82.4,479.2L80.2,484.2L77.1,491.4L73.9,499.3L71.2,507.6L68.4,516.5L65.7,524.6L63.1,531.4L60.4,537.6L57.6,544L54.6,551.7L51.5,559.5L49.4,565Z M86.6,480.7L89.1,471.7L92.6,459L96.1,446.7L99.3,436.2L102.5,426.1L105.6,416.7L108.5,408.3L111.3,400.6L114,392.8L116.9,384.6L119.7,376.5L122.4,368.7L124.9,361.6L127.3,354.9L129.5,348.4L131.6,342.1L133.6,336.1L135.5,330.4L137.4,325.4L139.3,320.5L141.4,314.7L144.4,306.4L147.6,297.2L149.9,290.7L146.1,289.3L143.8,295.9L140.5,305L137.6,313.3L135.4,319L133.5,323.9L131.5,329L129.5,334.8L127.6,340.8L125.5,347L123.2,353.4L120.8,360.1L118.2,367.3L115.5,375L112.6,383.1L109.8,391.2L107,399L104.1,406.8L101.2,415.3L98,424.7L94.8,434.8L91.5,445.3L87.9,457.6L84.3,470.4L81.8,479.3Z M149.9,290.7L152,284.9L155.1,276.3L157.8,266.4L159.9,254.4L161.6,241.2L162.9,230.6L163.5,225L163.6,222.1L164,218.7L165,213.2L166.3,207L167.5,200.7L168.7,194.7L169.8,188.6L171.1,182.6L172.5,176.6L174,170.5L175.7,164.7L177.6,159.4L179.6,154.2L181.6,149.1L184,143.3L186.4,137.5L188.1,133.5L185.9,132.5L184.1,136.5L181.6,142.3L179.2,148.1L177.1,153.2L175,158.4L173.1,163.9L171.3,169.7L169.6,175.9L168.1,182L166.8,188L165.6,194.1L164.5,200.1L163.1,206.3L161.8,212.5L160.8,218.1L160.3,221.8L160.1,224.7L159.5,230.2L158.1,240.7L156.3,253.8L154.2,265.6L151.4,275.2L148.3,283.5L146.1,289.3Z M62.4,520.5L63.5,515.3L65,507.9L66.4,500.4L67.5,494.2L68.4,488.1L69.8,480.5L71.9,470.3L74.3,458.5L76.9,446.5L79.6,434.5L82.4,422.2L85.3,410.6L88.1,399.7L90.9,389.5L93.6,380.7L96.1,373.7L98.4,368L100.7,363L102.9,358.4L105.1,354.5L106.6,351.8L102.6,349.6L101.1,352.3L98.9,356.3L96.5,361L94.2,366.2L91.8,372L89.2,379.3L86.5,388.2L83.6,398.5L80.7,409.4L77.9,421.1L75,433.4L72.3,445.5L69.6,457.5L67.1,469.3L65,479.5L63.6,487.3L62.6,493.5L61.6,499.6L60.1,506.9L58.6,514.3L57.6,519.5Z M42.6,610.5L39.3,604.8L34.8,596.7L30.6,588.8L27.7,581.8L25,574.7L22,567.3L18.2,559.4L14.1,551.4L10.4,543.9L7.2,536.5L4.3,529.4L2.3,524.5L-2.3,526.3L-0.4,531.3L2.4,538.4L5.6,546.1L9.3,553.8L13.3,561.8L17,569.5L19.8,576.7L22.4,583.9L25.4,591.2L29.6,599.5L34.2,607.7L37.4,613.5Z M69.7,379.3L68.6,374.9L67.1,368.4L65.3,361.3L63.5,353.8L61.5,345.5L59.2,337.2L56.4,329.1L53.4,321.1L50.5,313.1L47.4,304.3L44.2,295.4L42.1,289.2L37.3,290.8L39.4,297L42.5,306L45.5,314.9L48.4,322.9L51.3,330.9L53.8,338.8L56,346.9L57.9,355.1L59.7,362.7L61.4,369.8L62.9,376.2L63.9,380.7Z M42.1,289.2L40.4,284.5L38.2,277.9L36.3,271.4L35.1,266.5L34.2,261.8L33.5,254.9L33.3,242.9L33.3,228.6L33.3,218.4L29.3,218.4L29.1,228.6L28.9,242.9L29.1,255.1L29.6,262.4L30.5,267.5L31.7,272.6L33.6,279.3L35.8,286.1L37.3,290.8Z M70.9,294.3L70.1,292.7L68.9,290.2L67.2,286.8L64.7,282.3L61.7,277L58.7,271.4L55.9,265.7L53.1,259.6L50.1,253.4L46.9,247.4L43.6,241.4L40.6,235.4L37.8,228.9L35.2,222.2L33.4,217.6L29.2,219.2L31,223.9L33.5,230.6L36.4,237.4L39.5,243.5L42.8,249.6L45.9,255.6L48.7,261.6L51.5,267.7L54.3,273.6L57.4,279.3L60.4,284.7L62.8,289.2L64.5,292.4L65.6,294.8L66.3,296.5Z M72.2,400.2L73,391L74,378L75.2,365.2L76.3,353.6L77.6,342.2L79.1,332.4L80.9,324.7L82.9,318.5L84.9,312.7L86.9,307.3L89,302.5L90.9,297.7L92.6,293L94.3,288.5L95.9,283.6L97.5,278.3L99,272.7L100.5,267L102.1,261.1L103.6,255.1L105.2,249L106.9,243L108.6,236.9L110.1,230.8L111.4,224.8L112.6,218.8L113.7,212.7L114.8,206.7L116,200.6L117.2,194.7L118.9,188.5L120.7,182.3L122,178L118.6,177L117.3,181.3L115.5,187.5L113.8,193.9L112.4,199.9L111.3,206L110.1,212.1L108.9,218.1L107.8,224L106.5,230L104.9,235.9L103.2,242L101.6,248L99.9,254.1L98.3,260.1L96.7,266L95.2,271.7L93.7,277.2L92.1,282.4L90.5,287.2L88.9,291.7L87.1,296.3L85.2,301L83.1,305.8L81.1,311.3L79,317.1L76.8,323.6L74.9,331.6L73.4,341.7L72,353.1L70.8,364.8L69.6,377.6L68.5,390.7L67.8,399.8Z M37.4,145.5L38.9,141.1L41.1,134.8L43.3,128.4L45.3,122.3L47.2,116.2L49.2,110.4L51.1,105.4L53,100.8L55,96.2L57.6,90.7L60.3,85.1L62.2,81.1L60.4,80.3L58.4,84.2L55.6,89.7L53,95.2L50.8,99.9L48.8,104.5L46.8,109.6L44.8,115.4L42.7,121.5L40.7,127.6L38.4,133.9L36.2,140.1L34.6,144.5Z M76.6,182.6L77.4,176.1L78.6,167L80,158.7L81.7,152.3L83.7,146.4L85.8,140.9L88.1,135.6L90.4,130.5L92.9,125.3L95.6,119.7L98.4,114L101.2,108.4L104.1,103.1L107,97.8L109.6,92.8L111.8,88.1L113.7,83.8L115.6,79.5L117.5,75L119.4,70.5L121.5,66.2L124,61.9L126.6,57.8L128.5,54.9L126.5,53.5L124.5,56.4L121.8,60.6L119.1,65L117,69.3L115,73.9L113,78.3L111.1,82.6L109.2,86.9L107,91.4L104.3,96.4L101.4,101.6L98.4,107L95.5,112.6L92.6,118.3L89.9,123.9L87.3,129.1L84.9,134.2L82.6,139.5L80.3,145.2L78.2,151.2L76.4,157.9L74.8,166.5L73.5,175.6L72.6,182Z M95,123.1L98.9,117.4L104.3,109.6L109.4,102.5L113.5,97.6L117.3,93.4L121.2,89.4L125,85.3L128.8,81.5L133.1,77.3L138.9,72.1L145.2,66.6L149.7,62.8L148.5,61.2L143.9,65.1L137.5,70.5L131.5,75.7L127.1,79.8L123.3,83.7L119.4,87.6L115.5,91.7L111.5,95.8L107.2,100.9L102,107.9L96.5,115.8L92.6,121.3Z M106.9,167.3L106.9,171.1L106.8,176.5L106.8,182.3L107,188.2L107.2,194.3L107.4,200.5L107.6,206.7L107.8,212.9L107.8,218.3L107.4,222.4L106.9,226L106.6,230.4L107,236.2L107.7,242.5L108.4,248.8L109.1,254.8L109.8,260.8L110.6,266.8L111.5,273.3L112.3,279.8L113.1,284.9L113.6,288L114,289.7L114.3,290.7L119.1,289.3L118.9,288.4L118.5,287L117.9,284.1L117.2,279.1L116.3,272.6L115.4,266.2L114.6,260.2L113.8,254.2L113,248.2L112.2,242L111.5,235.8L111.2,230.4L111.3,226.4L111.9,222.9L112.2,218.5L112.1,212.8L111.9,206.6L111.6,200.3L111.4,194.2L111.1,188L111,182.3L110.9,176.5L110.9,171.1L110.9,167.3Z M114.3,290.7L115.2,293.6L116.5,297.8L117.8,302.7L119.3,308.2L120.8,314.4L122.5,320.7L124.4,326.8L126.4,332.9L128.5,338.9L130.8,345L133.2,351L135.8,357.1L138.5,363.2L141.4,369.2L144.2,375.2L146.9,381.2L149.6,387.2L152.4,393.2L155.2,399.2L158.1,405.2L160.9,411.2L163.7,417.3L166.5,423.5L169.3,429.6L172.1,435.5L174.9,441.4L177.6,447.2L180.1,453.3L182.5,459.5L184.7,465.4L186.4,470.6L187.9,475.5L189.3,480.8L191,487.8L192.7,495.4L193.8,500.7L200.2,499.3L199,493.9L197.2,486.4L195.5,479.2L193.9,473.7L192.4,468.7L190.5,463.4L188.3,457.3L185.8,451L183.2,444.8L180.4,438.8L177.6,432.9L174.7,427L171.9,421L169.1,414.9L166.3,408.8L163.4,402.7L160.5,396.7L157.6,390.8L154.8,384.8L152,378.8L149.2,372.8L146.4,366.8L143.5,360.8L140.8,354.9L138.2,349L135.8,343L133.5,337.1L131.4,331.1L129.4,325.2L127.5,319.3L125.8,313.1L124.2,306.9L122.8,301.3L121.3,296.4L120,292.2L119.1,289.3Z M205.7,822.9L205,809.7L204.2,790.9L203.6,771.4L203.7,752.6L204.2,732.9L204.5,713.1L204.5,693.4L204.4,673.9L204.5,654.3L204.7,634.1L205,613.9L205.4,595.9L206,581.6L206.7,569.3L207.1,556.8L207,543.5L206.5,530.4L206.3,517.6L206.4,503.7L206.7,489.9L207,480.2L195,479.8L194.7,489.5L194.3,503.4L194.1,517.6L194.4,530.7L194.8,543.7L194.9,556.6L194.4,568.7L193.7,580.9L193,595.5L192.6,613.7L192.2,633.9L191.9,654.3L191.9,673.9L191.9,693.5L191.9,712.9L191.5,732.6L191,752.4L190.8,771.6L191.3,791.4L192.1,810.3L192.7,823.5Z M207,480.2L207.2,470.5L207.5,456.4L207.7,440.1L207.7,421.1L207.5,400L207.3,380L207.2,360.7L207.1,342.6L207,330L197,330L196.9,342.6L196.8,360.7L196.7,380L196.6,400L196.5,421.1L196.3,439.9L195.9,456.2L195.4,470.2L195,479.8Z M207,330L206.8,319.6L206.6,304.8L206.5,290L206.5,276.6L206.7,263.1L206.9,250.2L207.4,238.2L207.9,226.9L208.5,215.2L209,201.6L209.6,187.8L210,178.2L204,177.8L203.4,187.5L202.4,201.3L201.5,214.8L200.7,226.4L199.8,237.8L199.1,249.8L198.4,262.8L197.9,276.4L197.5,290L197.3,304.8L197.1,319.6L197,330Z M209.9,178.6L211.1,172.4L212.9,163.5L214.7,154.6L216.5,146.4L218.5,138.2L220.4,130.7L222.3,124.3L224.2,118.6L226.2,112.8L228.3,106.8L230.6,100.7L233,94.9L235.7,89L238.5,83.3L241.4,78L244.1,73.3L246.8,69.1L249.5,65L252.2,61L254.9,57.1L257.9,53L261,48.5L264.3,43.8L268.1,38.6L273.6,32.2L279.6,25.3L283.9,20.4L282.1,18.8L277.7,23.6L271.5,30.4L265.9,36.8L261.8,41.9L258.3,46.6L255.1,51L252.1,55.1L249.3,59L246.5,63L243.7,67.1L240.9,71.3L238,76L235,81.4L231.9,87.2L229,93.1L226.5,99.1L224.1,105.2L221.8,111.2L219.7,117L217.6,122.8L215.6,129.3L213.5,136.9L211.3,145.2L209.3,153.4L207.3,162.3L205.4,171.2L204.1,177.4Z M204.4,612.8L205.4,607.5L206.9,599.8L208.6,590.8L210.4,580.3L212.5,568.6L214.7,557.7L217,548.5L219.5,539.8L221.7,530.3L223.3,519.4L224.6,508.2L225.8,498.7L227.1,491.3L228.3,485.2L229.1,481L218.9,479L218,483.2L216.9,489.4L215.6,497.3L214.5,507L213.3,518.1L211.9,528.5L209.9,537.4L207.6,546.1L205.3,555.7L203.2,566.9L201.2,578.7L199.4,589.2L197.9,598.2L196.5,605.9L195.6,611.2Z M229.2,480.9L231,470.9L233.5,456.7L236,443.4L238.1,432.9L240.1,423.2L242.2,413.5L244.5,403.6L247,393.5L249.3,383.3L251.4,373L253.2,362.7L255.2,353.3L257.4,345.1L259.6,337.5L262.2,329.8L265.1,321.7L268.4,313.6L271.7,306L275.1,298.9L278.7,292.2L282,285.9L285.1,280.5L288,275.4L290.8,269.8L293.3,263L295.5,256.1L296.9,251.3L288.3,248.7L286.8,253.4L284.7,260L282.4,266.2L280,271.1L277.1,275.9L274,281.5L270.5,287.8L266.8,294.6L263.1,302L259.7,310L256.3,318.3L253.2,326.6L250.5,334.5L248.1,342.4L245.8,351.1L243.7,360.8L241.7,371.1L239.7,381.3L237.3,391.2L234.8,401.2L232.4,411.3L230.2,421.1L228.1,430.8L226,441.4L223.4,454.8L220.7,469L218.8,479.1Z M199.5,355.6L198.9,350.9L198,344.2L196.9,337.5L195.8,331.4L194.5,325.3L193.1,319.3L191.5,313.2L189.8,307.1L188.2,301.2L186.7,295.4L185.1,289.5L183.1,283.5L180.5,277.2L177.5,271L174.4,265.2L171.5,260.1L168.6,255.4L165.9,250.8L163.2,245.2L160.5,239.4L158.7,235.4L154.1,237.4L155.9,241.5L158.5,247.4L161.3,253.2L164,258.1L166.8,262.8L169.6,267.8L172.4,273.5L175.2,279.6L177.7,285.5L179.4,291.2L180.8,296.9L182.2,302.8L183.8,308.8L185.4,314.8L186.9,320.7L188.1,326.7L189.3,332.6L190.3,338.5L191.2,345.1L192,351.8L192.5,356.4Z M158.6,235.2L156.4,231.2L153.3,225.4L150.1,219.6L147.2,214.7L144.4,210L141.5,204.9L138.6,199.2L135.7,193.2L133,187.2L130.8,181.3L128.8,175.4L127,169.4L125.3,163.5L123.7,157.5L122.2,151.5L120.5,145.5L118.8,139.5L117.3,133.6L115.8,127.6L114.6,121.7L113.6,115.8L113.1,109.9L112.9,104L112.9,98L113.2,91.4L113.6,84.8L114,80.1L111,79.9L110.6,84.5L110,91.2L109.7,98L109.6,104L109.7,110.1L110.2,116.2L111.1,122.3L112.4,128.4L113.7,134.4L115.2,140.5L116.8,146.5L118.4,152.5L119.9,158.5L121.4,164.5L123,170.6L124.8,176.6L126.8,182.7L129,188.8L131.6,195L134.6,201.2L137.5,207.1L140.3,212.3L143.1,217.1L145.9,222L149,227.7L152,233.5L154.2,237.6Z M199.7,259.8L198.4,255.2L196.6,248.5L194.7,241.8L193.1,235.8L191.4,229.8L189.8,223.8L188.2,217.8L186.5,211.8L184.9,205.8L183.3,199.8L181.6,193.8L180,187.8L178.3,181.8L176.7,175.8L175.1,169.8L173.5,163.8L172,157.7L170.1,151.6L167.8,145.3L165.1,139.1L162.8,133.6L161,129.1L159.4,125.2L157.9,121.5L156.3,118.1L154.7,115L153,111.7L150.8,108L148.4,104.2L146.8,101.5L144.2,103.1L145.8,105.8L148.1,109.5L150.2,113.3L151.9,116.4L153.4,119.5L154.9,122.9L156.4,126.4L157.9,130.3L159.6,134.8L161.9,140.4L164.4,146.6L166.7,152.8L168.4,158.7L169.8,164.7L171.3,170.8L172.9,176.8L174.5,182.8L176,188.8L177.6,194.9L179.1,200.9L180.7,207L182.3,213L183.8,219L185.4,225L187,231L188.5,237L190.1,243L191.9,249.7L193.6,256.5L194.9,261.2Z M251.5,106L251.4,112.4L251.2,121.5L250.9,129.9L250.1,136.2L249.2,141.9L248.3,147.7L247.4,153.7L246.5,159.7L245.6,165.7L244.9,171.7L244.1,177.7L243.2,183.6L242.1,189.5L240.8,195.5L239.5,201.4L237.9,207.3L236.3,213.3L234.7,219.3L233,225.5L231.4,231.8L229.7,237.8L228,243.8L226.3,249.5L224.9,254.1L223.9,256.8L223.1,258.4L222.6,259.5L228,262.1L228.5,261L229.4,259L230.5,255.9L231.9,251.2L233.6,245.3L235.3,239.2L236.8,233.2L238.4,226.9L239.9,220.7L241.5,214.7L243.1,208.6L244.5,202.6L245.9,196.5L247.1,190.5L248.2,184.4L249,178.3L249.7,172.3L250.4,166.3L251.1,160.3L251.9,154.3L252.7,148.3L253.6,142.6L254.5,136.7L255.1,130.1L255.4,121.6L255.5,112.5L255.5,106Z M222.9,260L221.3,265L219,272L216.6,279.2L214.5,286L212.3,293L210.4,299.8L208.7,306.1L207.3,312.1L206,318L204.7,324.2L203.6,330.3L202.8,334.4L209.2,335.6L209.9,331.4L210.9,325.4L212,319.2L213.2,313.4L214.5,307.5L216,301.2L217.8,294.6L219.8,287.6L221.8,280.8L224,273.6L226.1,266.5L227.7,261.6Z M237.5,220.3L242.7,214L250,205.1L257.4,196.2L264.3,188.4L271.4,180.5L278.3,172L285.1,162.4L291.6,152.3L297.3,142.8L301.9,134L305.6,125.8L309.2,118.7L313.2,112.7L317.1,107.6L320.9,103.6L324.8,100.8L328.7,99L331.5,97.7L330.5,95.5L327.7,96.7L323.5,98.6L319.1,101.6L315.1,105.8L310.9,111.1L306.8,117.3L303,124.5L299.2,132.7L294.7,141.2L288.9,150.6L282.4,160.6L275.7,170L268.8,178.2L261.7,186L254.6,193.8L247.1,202.7L239.6,211.5L234.5,217.7Z M278.2,170.9L286.9,159.6L299.1,143.8L309.1,130.9L314.4,124.6L317.7,121.2L321.1,116.7L325.2,109.8L329.2,102.1L333.1,94.6L337.5,87L342,79.5L345.1,74.3L342.9,73.1L339.8,78.3L335.3,85.7L330.9,93.4L326.8,100.9L322.8,108.6L318.9,115.3L315.7,119.4L312.4,122.8L306.9,129.1L296.8,142L284.6,157.8L275.8,169.1Z M292.2,828.9L293.1,821.9L294.3,811.9L295.6,801.7L297,792.6L298.4,782.9L299.4,771.9L299.8,759.3L299.8,745.7L299.3,732.1L298.2,718.8L296.7,705.7L295.2,692.7L293.8,679.7L292.3,666.7L291.1,653.8L290.1,640.9L289.4,628.1L289,615.2L289,603.1L289.4,590.9L289.8,576.4L290.3,557.5L290.9,536.5L291.6,517.9L292.6,502.5L293.7,489.5L294.5,480.5L283.5,479.5L282.7,488.5L281.5,501.7L280.4,517.3L279.5,536.1L278.8,557.2L278.2,576L277.6,590.5L277.1,602.9L277,615.4L277.3,628.6L278,641.7L278.9,654.8L280,667.9L281.4,681L282.8,694.1L284.2,707.1L285.6,720L286.5,732.7L286.9,745.9L286.8,759.1L286.4,771.1L285.3,781.3L283.9,790.5L282.4,799.9L281,810.2L279.7,820.2L278.8,827.1Z M294.5,480.3L295.1,470L296,455.1L296.8,440.3L297.4,427.3L297.9,414.3L298.3,400.1L298.7,384.2L298.9,367.1L299.2,350.1L299.5,333.1L299.9,316L300.1,300.1L300.1,284.5L300.1,270L300,260L290,260L290,270L290,284.4L289.9,299.9L289.6,315.8L289.2,332.9L288.8,349.9L288.4,366.9L288.1,384L287.7,399.9L287.2,413.9L286.6,426.8L286,439.7L285.1,454.5L284.2,469.3L283.5,479.7Z M300,260L299.9,250.8L299.8,237.9L299.8,226L299.7,217.3L299.7,209.6L299.6,201.9L299.3,193.8L298.8,185.7L298.2,177.7L297.4,169.6L296.5,161.5L295.6,153.6L294.7,145.6L293.8,137.7L293.1,129.7L292.5,120.6L292,111.4L291.7,104.8L283.9,105.2L284.1,111.7L284.5,121L284.9,130.3L285.6,138.5L286.4,146.5L287.2,154.4L288,162.5L288.7,170.4L289.4,178.3L289.9,186.3L290.2,194.2L290.4,202.1L290.4,209.6L290.3,217.2L290.2,226L290.2,237.9L290.1,250.8L290,260Z M297,232.1L295.3,224L293,212.4L290.8,201.6L288.9,193.1L287.1,185.4L285.7,177.7L284.7,169.8L284,161.9L283.4,153.9L282.8,145.9L282.4,137.9L282,129.9L281.6,121.7L281.3,113.5L281.3,106L281.7,99.4L282.3,93.5L283,88.2L283.6,83.8L284.2,80.1L285.1,76.3L286.5,71.9L288.1,67.4L289.9,63.5L292,60.5L294.2,58.1L295.7,56.4L294.3,55L292.7,56.7L290.3,59.2L288.1,62.5L286.2,66.5L284.4,71.2L282.9,75.7L281.9,79.6L281.2,83.4L280.6,87.8L279.9,93.2L279.2,99.2L278.7,106L278.7,113.6L278.9,121.8L279.2,130.1L279.4,138.1L279.8,146.1L280.2,154.1L280.8,162.1L281.4,170.2L282.3,178.3L283.7,186.1L285.4,193.9L287.2,202.4L289.3,213.2L291.5,224.7L293,232.9Z M302,286.3L302.6,281.6L303.3,274.9L304.1,268.3L305.2,262.6L306.4,256.7L306.7,249.8L305.2,242.1L302.9,234.2L301.8,226.5L302.7,218.7L304.6,210.6L306.4,202.3L307.6,194.2L308.7,186.2L309.7,178.3L311,170.3L312.3,162.3L313.5,154.3L314.7,146.2L315.9,138.2L317,130.2L318.1,122.1L319.2,114L320.4,106.3L321.9,98.9L323.5,91.8L325.3,85L327.4,77.6L329.6,70.4L331.2,65.4L328.8,64.6L327.2,69.6L324.9,76.8L322.7,84.2L320.9,91.2L319.1,98.3L317.6,105.7L316.3,113.6L315.1,121.7L314,129.8L312.8,137.8L311.5,145.8L310.3,153.7L308.9,161.7L307.6,169.7L306.3,177.7L305.1,185.7L304,193.7L302.8,201.7L300.9,209.7L298.8,218L297.8,226.5L299,235L301.2,243.1L302.5,250.2L302.2,256.2L301,261.8L299.9,267.7L299,274.4L298.1,281.1L297.6,285.7Z M299.7,257.4L300,256.6L300.7,255.3L302.5,251.8L305.7,244.9L309.9,236L314.2,227.9L318.6,221.5L323.2,215.7L327.9,210.2L332.6,205.2L337.4,200.6L342.4,195.7L347.4,190.3L352.3,184.8L357.5,179.7L363.1,175.1L369.1,170.8L375.1,166.7L381.1,162.8L387,159.1L392.9,155.7L399.4,152.5L406,149.6L410.7,147.6L409.3,144.4L404.6,146.3L397.9,149.1L391.1,152.3L385,155.7L378.9,159.4L372.9,163.3L366.7,167.3L360.5,171.6L354.5,176.3L349,181.6L343.9,187.1L339,192.3L334,197L329.1,201.7L324.1,206.8L319.2,212.3L314.3,218.3L309.6,225.1L304.9,233.5L300.5,242.4L297.1,249.2L295.4,252.6L294.7,253.9L294.3,254.6Z M357.1,179L360.2,175.4L364.6,170.2L369.1,164.8L372.9,159.7L376.8,154.4L381,148.7L386.2,141.7L391.8,134.3L395.8,129.1L394.2,127.9L390.2,133L384.4,140.4L379,147.3L374.8,152.9L370.8,158.2L366.9,163.2L362.5,168.4L358,173.5L354.9,177Z M339.5,89.9L338.8,95.7L337.7,104L336.7,111.8L335.6,118.1L334.5,123.9L333.3,129.7L332.1,135.7L330.8,141.7L329.5,147.7L328.3,153.7L327.1,159.7L325.9,165.7L324.8,171.7L323.6,177.7L322.4,183.7L321.1,189.6L319.7,195.6L318.3,201.6L316.8,207.7L315.2,213.9L313.7,220.1L312.4,226L311.2,231.9L310,238.1L308.6,245.9L307.1,253.9L306,259.6L310,260.4L311,254.6L312.4,246.6L313.8,238.9L314.9,232.6L316.1,226.8L317.3,220.9L318.7,214.8L320.2,208.6L321.7,202.4L323.1,196.3L324.4,190.3L325.6,184.3L326.8,178.3L327.9,172.3L329.1,166.3L330.2,160.3L331.3,154.3L332.5,148.3L333.7,142.3L334.9,136.3L336.1,130.3L337.2,124.4L338.3,118.5L339.3,112.2L340.3,104.3L341.3,96L341.9,90.1Z M301,334.9L303,332.1L305.8,328.1L309,324.4L312.6,320.9L316.6,317.5L320.6,314.8L324.2,313.1L327.9,312L332.2,311.1L338,310.5L344.4,310.2L349,310L349,308L344.4,308.1L337.9,308.3L331.8,308.9L327.4,309.7L323.4,310.8L319.4,312.6L315.1,315.4L310.8,318.9L307,322.4L303.6,326.4L300.6,330.4L298.6,333.1Z M297.5,540.5L298.5,532.7L299.9,521.6L301.3,510.4L302.6,500.3L304,490.1L305.2,480.4L306,471.4L306.8,463L307.6,454.8L308.6,446.7L309.6,438.8L310.9,430.9L312.3,423L313.9,415L315.7,407L317.6,399L319.6,391L321.6,382.9L323.7,373.9L325.9,364.9L327.4,358.6L322.6,357.4L321,363.7L318.7,372.7L316.4,381.7L314.4,389.7L312.3,397.7L310.3,405.8L308.5,413.8L306.7,421.8L305.1,429.9L303.8,437.9L302.7,446L301.6,454.2L300.7,462.4L299.8,470.8L298.8,479.6L297.6,489.2L296.1,499.4L294.7,509.6L293.2,520.7L291.6,531.8L290.5,539.5Z M327.4,358.7L329.2,352.2L331.8,343.1L334.3,334.7L336.3,328.3L338.2,322.5L340.2,316.7L342.1,310.7L344,304.7L346.1,298.8L348.4,292.8L350.9,286.8L353.4,280.8L356,274.6L358.4,268.3L360.7,262.8L362.5,258.1L364.2,254L365.4,250.6L366,248.5L366.1,247.4L366.6,245L368.2,239.8L370.3,233.1L372.5,227.2L374.9,222.5L377.6,218.4L379.5,215.5L376.5,213.5L374.6,216.4L371.8,220.7L369.1,225.8L366.8,231.9L364.6,238.6L363,244L362.3,246.7L362.2,247.8L361.8,249.4L360.5,252.6L358.9,256.6L356.9,261.2L354.7,266.8L352.1,273L349.6,279.2L347,285.2L344.4,291.2L341.9,297.2L339.8,303.3L337.8,309.3L335.8,315.3L333.8,321L331.8,326.8L329.7,333.3L327.2,341.8L324.5,350.9L322.6,357.3Z M342.5,823.1L342.6,817.8L342.8,810.1L343.4,800.5L344.7,788.6L346.5,774.6L348.2,760.6L349.6,747.2L350.9,733.8L352,720.4L352.8,706.9L353.4,693.5L353.9,680.2L354.2,666.8L354.5,653.4L354.7,640.1L354.8,626.7L354.9,613.4L355,600.1L355.2,586.7L355.3,573.4L355.3,560L355.2,546.6L354.9,533.3L354.7,519.9L354.4,505.1L354.2,490.3L354,480L346,480L346.1,490.4L346.2,505.2L346.3,520.1L346.5,533.4L346.6,546.7L346.7,560L346.5,573.3L346.2,586.6L346,599.9L345.8,613.3L345.6,626.6L345.3,639.9L345,653.2L344.6,666.5L344.1,679.8L343.6,693.1L342.9,706.4L342,719.6L340.8,732.9L339.3,746.1L337.8,759.4L336,773.3L334.1,787.3L332.6,799.5L331.9,809.5L331.6,817.5L331.5,822.9Z M353.5,480.5L354.5,473.9L355.9,464.4L357.3,455L358.5,446.8L359.6,438.8L360.7,430.9L361.9,422.8L362.9,414.8L364,406.8L365,398.8L366,390.7L366.8,382.6L367.5,374.4L368.1,366.3L368.7,358.2L369.4,350.2L370.2,342.3L370.9,334.2L371.6,326.2L372.3,318.3L373.2,310.3L374.2,302.3L375.3,294.4L376.6,286.4L378.1,278L379.7,269.5L381,262.4L382.1,257.1L383,253.1L383.6,250.4L379.6,249.6L379,252.2L378.1,256.2L377,261.6L375.5,268.7L373.8,277.2L372.2,285.6L370.8,293.6L369.6,301.7L368.4,309.7L367.5,317.7L366.7,325.8L365.9,333.8L365,341.7L364.1,349.7L363.3,357.8L362.6,365.9L361.9,374L361.2,382L360.2,390L359.1,398L358,406L356.9,414L355.7,422L354.5,429.9L353.2,437.9L352,445.9L350.7,454L349.2,463.3L347.6,472.8L346.5,479.5Z M382.9,251.5L384.1,250.5L386,248.3L386.9,244.5L386.2,239.1L384.8,232.6L383.3,226.1L382.1,220.2L380.8,214.2L379.6,208.2L378.3,202L377.1,195.7L375.8,189.7L374,183.7L372.1,178.2L370.8,174.4L368.4,175.2L369.7,179L371.4,184.5L373,190.3L374.3,196.2L375.3,202.5L376.4,208.8L377.6,214.9L378.7,220.9L379.9,226.9L381.2,233.3L382.5,239.7L383.1,244.5L382.5,246.6L381.4,247.6L380.3,248.5Z M389.8,441.2L390.8,438L392.1,433.2L393.6,427.7L395.2,421.5L396.9,414.5L398.6,407.6L400.3,400.7L402,393.9L403.6,387.5L405,381.6L406.2,376.2L407.3,371.3L408.2,367.5L409,364.2L409.7,360.5L410.6,356.3L411.5,351.7L412.2,347L412.7,342.5L413,337.9L413.3,333.4L413.5,329L413.7,324.5L413.7,320L413.5,315L413.1,310L412.8,306.6L409.8,306.8L410,310.2L410.2,315.2L410.3,320L410.1,324.4L409.7,328.7L409.3,333.2L408.9,337.6L408.4,342L407.8,346.4L406.9,350.8L405.9,355.3L404.9,359.5L404,363L403.1,366.2L402.1,370.1L400.8,374.8L399.4,380.2L397.8,385.9L396,392.3L394,399L392,405.8L390.1,412.7L388.2,419.6L386.4,425.7L384.7,431L383.2,435.6L382.2,438.8Z M391.9,293.5L393.2,288.7L394.9,281.8L397,275.3L399.2,269.6L401.8,264.2L404.5,259.7L407.7,256.8L411.5,254.5L415,251.7L417.9,248.1L420.3,244.3L422,240.4L422.6,236.4L422.6,232.6L422.5,230L420.1,230L420.1,232.6L420.1,236.1L419.4,239.6L417.9,243L415.6,246.5L413,249.7L409.8,252L405.9,254.3L402.1,257.7L398.9,262.6L396.1,268.2L393.6,274.1L391.3,280.8L389.4,287.7L388.1,292.5Z M420.7,369.4L425,367.3L431.1,364.3L437.3,361.3L443.1,358.6L448.9,355.9L454.6,353.2L460.1,350.4L465.5,347.6L470.5,345.1L475,343.2L479.3,341.5L483.7,339.7L489,337.5L494.5,335.2L498.4,333.6L497.6,331.8L493.7,333.3L488.2,335.5L482.9,337.7L478.5,339.4L474.1,341L469.5,342.9L464.4,345.3L458.9,348.1L453.4,350.8L447.7,353.4L441.9,356L436.1,358.7L429.8,361.6L423.6,364.5L419.3,366.6Z M392.6,468.2L394.6,464.6L397.5,459.5L400.4,454.4L403,450L405.6,445.6L408.2,441.5L410.8,437.7L413.4,434.1L416,430.5L418.6,427.2L421.2,423.8L423.9,420L426.7,415.5L429.4,410.7L431.9,406.1L434.4,401.5L436.8,397L438.4,394L435,392L433.2,395.1L430.7,399.4L428.1,403.9L425.5,408.5L422.8,413.2L420.1,417.4L417.4,420.9L414.8,424.1L412,427.5L409.3,431L406.6,434.7L403.8,438.5L401,442.7L398.3,447.1L395.6,451.6L392.5,456.6L389.5,461.6L387.4,465.2Z M391.2,461.1L394.5,457.5L399.2,452.5L404,447.8L408.2,444.3L412.5,441.2L417.4,438.3L423.5,435.5L430.3,432.8L437.1,430.3L443.8,428.1L450.5,426L457.1,423.9L463.4,421.7L469.6,419.4L475.5,417.1L481,414.8L486.2,412.4L491.4,410.1L496.8,407.9L502.1,405.8L507.4,403.7L513.1,401.5L518.8,399.3L523.2,398L525.7,398.1L527.1,398.9L528.2,399.5L529.2,397.9L528.1,397.1L526.1,396.1L522.8,396L518.1,397.3L512.3,399.5L506.6,401.7L501.3,403.7L495.9,405.8L490.6,407.9L485.3,410.2L480,412.6L474.5,414.9L468.7,417.1L462.6,419.3L456.3,421.5L449.8,423.5L443,425.5L436.3,427.7L429.3,430.2L422.3,432.8L416,435.7L410.8,438.7L406.4,441.9L402,445.6L397,450.3L392.2,455.3L388.8,458.9Z M403.6,454.3L408.8,451.9L416.1,448.5L423.5,445.2L430.3,442.4L437.1,439.6L443.4,437.2L449,435.2L454.2,433.5L459.3,431.9L464.6,430.4L469.9,429.1L475.2,427.9L480.5,426.9L485.8,426L491.2,425.1L496.7,424.1L502.2,423L507.2,422.1L510.9,421.5L514.2,421.1L518.4,419.7L524.8,416.5L532.1,412.5L537.2,409.6L536.2,407.8L531.1,410.7L523.9,414.6L517.6,417.7L513.7,419L510.6,419.4L506.8,419.9L501.8,420.9L496.3,421.9L490.8,422.9L485.5,423.7L480.1,424.6L474.8,425.5L469.4,426.7L464,428L458.7,429.5L453.4,431.1L448.2,432.8L442.6,434.8L436.2,437.2L429.3,439.9L422.5,442.8L415,446L407.6,449.4L402.4,451.7Z M454.7,474.2L456,472.6L457.9,470.2L460.4,467.3L463.8,463.7L467.9,459.5L472.1,455.1L476.3,450.8L480.5,446.3L484.9,441.9L489.4,437.3L494,432.6L498.3,428.3L502.3,424.4L505.9,420.9L508.4,418.5L505.6,415.5L503,417.9L499.3,421.3L495.1,425.1L490.7,429.2L485.9,433.7L481.1,438.1L476.6,442.4L472.2,446.7L467.9,450.9L463.5,455L459.2,459.1L455.6,462.7L452.8,465.7L450.7,468.2L449.3,469.8Z M467.6,468.2L471.8,466.5L477.7,464L483.7,461.5L489,459.1L494.4,456.7L499.6,454.7L504.8,453.1L510.1,451.9L515.3,450.8L520.7,450.2L526.2,449.7L531.7,448.5L536.9,445.8L541.4,442.6L544.5,440.3L542.1,437.1L539.1,439.4L534.8,442.5L530.3,444.9L525.7,445.9L520.3,446.5L514.7,447.2L509.3,448.3L503.9,449.6L498.4,451.3L493,453.5L487.6,456L482.3,458.5L476.4,461L470.5,463.5L466.4,465.2Z"/>
<filter id="fur" x="-5%" y="-5%" width="110%" height="110%"><feTurbulence type="fractalNoise" baseFrequency="0.35" numOctaves="2" seed="3" result="n"/><feDisplacementMap in="SourceGraphic" in2="n" scale="5" xChannelSelector="R" yChannelSelector="G"/></filter>
<g fill="currentColor" fill-rule="evenodd">
<path d="M93.4,1418.4C93.4,1418.4 97.9,1422.5 99.6,1426.6C101.3,1430.7 102.9,1436.9 103.7,1443.1C104.6,1449.3 104.4,1457.5 104.7,1463.7C105.1,1469.9 104.7,1475.4 105.8,1480.2C106.8,1485 108.5,1489.3 110.9,1492.6C113.3,1495.8 117.3,1498.1 120.2,1499.8C123.1,1501.5 128.5,1502.9 128.5,1502.9C128.5,1502.9 127.1,1490.9 126.4,1484.3C125.7,1477.8 124.9,1470.6 124.3,1463.7C123.7,1456.8 123.1,1450 122.9,1443.1C122.7,1436.2 122.8,1428.7 123.3,1422.5C123.8,1416.3 124.8,1410.4 125.8,1406C126.7,1401.5 128.1,1397.9 129.1,1395.7C130,1393.4 131.5,1392.6 131.5,1392.6C131.5,1392.6 135.2,1396.9 135.7,1401.9C136.2,1406.8 134.7,1415.6 134.6,1422.5C134.6,1429.3 134.7,1436.2 135.3,1443.1C135.8,1450 136.8,1456.8 137.7,1463.7C138.7,1470.6 140,1478.5 140.8,1484.3C141.7,1490.2 141.7,1494.6 142.9,1498.8C144.1,1502.9 145.5,1506 148,1509.1C150.6,1512.2 154.2,1514.9 158.4,1517.3C162.5,1519.7 167.6,1521.4 172.8,1523.5C177.9,1525.6 184.5,1528 189.3,1529.7C194.1,1531.4 198.2,1533.2 201.6,1533.8C205.1,1534.4 209.9,1533.4 209.9,1533.4C209.9,1533.4 214.2,1527.2 216.1,1523.5C218,1519.8 219.9,1515.6 221.2,1511.1C222.6,1506.7 223.6,1500.3 224.3,1496.7C225.1,1493.1 225.6,1489.5 225.6,1489.5C225.6,1489.5 226.4,1500.5 226.8,1504.9C227.2,1509.4 228,1516.3 228,1516.3C228,1516.3 233.9,1518 236.7,1519.4C239.5,1520.8 242.4,1522.5 244.9,1524.5C247.5,1526.6 250.1,1529 252.2,1531.8C254.2,1534.5 256.1,1537.9 257.3,1541C258.5,1544.1 259.2,1546.4 259.4,1550.3C259.6,1554.3 258.4,1564.7 258.4,1564.7C258.4,1564.7 262.6,1561.6 265.6,1560.6C268.5,1559.7 272.1,1559.2 275.9,1559C279.7,1558.7 288.2,1559 288.2,1559C288.2,1559 292,1556.9 294.4,1554.4C296.8,1552 299.9,1547.9 302.7,1544.1C305.4,1540.3 308.7,1535.9 310.9,1531.8C313.2,1527.6 314.8,1523.8 316.1,1519.4C317.4,1514.9 318.1,1510.1 318.8,1504.9C319.5,1499.8 319.9,1492.6 320.2,1488.5C320.5,1484.3 320.4,1482.4 320.8,1480.2C321.3,1478 322.1,1476.2 322.9,1475.1C323.7,1474 324.7,1473.1 325.8,1473.6C326.9,1474.1 328.7,1475.7 329.5,1478.1C330.3,1480.6 330.5,1484.3 330.5,1488.5C330.5,1492.6 329.1,1499.3 329.5,1502.9C329.8,1506.5 330.9,1508.7 332.6,1510.1C334.3,1511.5 336.9,1511.5 339.8,1511.5C342.7,1511.5 346.7,1511.2 350.1,1510.1C353.5,1509 356.6,1507.2 360.4,1504.9C364.2,1502.7 369,1499.6 372.8,1496.7C376.6,1493.8 380.5,1490.3 383.1,1487.4C385.7,1484.5 388.2,1479.4 388.2,1479.4C388.2,1479.4 375.4,1477.3 368.7,1476.1C362,1474.8 354.9,1473.5 348,1472C341.2,1470.4 333.6,1468.7 327.4,1466.8C321.2,1464.9 316.1,1462.9 310.9,1460.6C305.8,1458.4 300.4,1455.8 296.5,1453.4C292.5,1451 289.2,1448.4 287.2,1446.2C285.3,1444 284.9,1441.5 284.7,1440C284.6,1438.5 284.9,1437.3 286.2,1436.9C287.5,1436.6 289.6,1436.7 292.4,1437.9C295.1,1439.1 298.6,1442.2 302.7,1444.1C306.8,1446 311.3,1447.7 317.1,1449.3C323,1450.8 330.9,1452.2 337.7,1453.4C344.6,1454.6 351.5,1455.6 358.4,1456.5C365.2,1457.4 373.9,1458 379,1458.6C384,1459.1 388.7,1459.6 388.7,1459.6C388.7,1459.6 388.7,1452 388.2,1447.2C387.8,1442.4 387.2,1435.9 386.2,1430.7C385.2,1425.6 383.6,1421.1 382.1,1416.3C380.5,1411.5 378.8,1406.7 376.9,1401.9C375,1397 372.8,1391.9 370.7,1387.4C368.7,1383 366,1377.8 364.5,1375.1C363.1,1372.3 362.1,1372 362.1,1370.9C362.1,1369.9 363.4,1368.5 364.5,1368.9C365.6,1369.2 366.6,1369.9 368.7,1373C370.7,1376.1 374.2,1382.6 376.9,1387.4C379.7,1392.2 382.7,1397.4 385.2,1401.9C387.6,1406.3 389.6,1409.9 391.3,1414.2C393.1,1418.5 395.9,1427.6 395.9,1427.6C395.9,1427.6 394.7,1418.2 393.4,1412.2C392.1,1406.2 390,1397.7 388.2,1391.5C386.5,1385.4 384.6,1379.9 383.1,1375.1C381.5,1370.2 380.1,1366 379,1362.7C377.9,1359.3 376.5,1354.8 376.5,1354.8C376.5,1354.8 381,1357.9 383.1,1360.6C385.2,1363.3 387.6,1366.8 389.3,1370.9C391,1375.1 391.9,1379.9 393.4,1385.4C394.9,1390.9 396.8,1397.7 398.6,1403.9C400.3,1410.1 402,1416.6 403.7,1422.5C405.4,1428.3 407.5,1434.2 408.9,1439C410.2,1443.8 411.4,1447.2 412,1451.3C412.5,1455.5 412.7,1459.2 412.4,1463.7C412,1468.2 411.3,1473.3 409.9,1478.1C408.5,1483 406.5,1488.1 403.7,1492.6C401,1497 397.5,1501.2 393.4,1504.9C389.3,1508.7 384.5,1512 379,1515.3C373.5,1518.5 360.4,1524.5 360.4,1524.5C360.4,1524.5 360.7,1548.8 360,1556.5C359.3,1564.2 358.3,1565.8 356.3,1570.9C354.3,1576.1 351.1,1581.9 348,1587.4C344.9,1592.9 340.7,1598.8 337.7,1603.9C334.8,1609.1 332.2,1614.2 330.5,1618.4C328.8,1622.5 327.6,1625.6 327.4,1628.7C327.3,1631.8 327.8,1633.5 329.5,1636.9C331.2,1640.3 335,1644.5 337.7,1649.3C340.5,1654.1 343.6,1660.6 346,1665.8C348.4,1670.9 351.3,1674.5 352.2,1680.2C353.1,1685.9 350.3,1694.7 351.4,1700C352.5,1705.3 356.5,1708.3 358.6,1712C360.8,1715.7 362.6,1718.8 364.3,1722C366,1725.2 366.5,1729.1 368.6,1731.4C370.7,1733.7 373.2,1736.2 377,1736C380.8,1735.8 386.1,1734.1 391.4,1730C396.7,1725.9 403.4,1717.8 408.6,1711.4C413.9,1705 418.2,1698.1 422.9,1691.4C427.6,1684.7 431.8,1678.1 437,1671.4C442.2,1664.7 449.5,1656.4 454.3,1651.4C459.1,1646.4 461.6,1646.5 465.7,1641.4C469.8,1636.3 473.2,1627.8 478.6,1621C484,1614.2 490.4,1605.7 498,1600.5C505.6,1595.3 515.4,1591.8 524,1590C532.6,1588.2 541.1,1588.2 549.7,1590C558.3,1591.8 566.9,1596.2 575.5,1600.5C584.1,1604.8 593.5,1610.4 601.2,1616C608.9,1621.6 615.9,1627.2 621.9,1634C627.9,1640.8 632.1,1648 637.3,1657C642.4,1666 647.6,1678.5 652.8,1688C657.9,1697.5 663.1,1705.4 668.2,1714C673.4,1722.6 679,1733.7 683.7,1739.7C688.4,1745.7 693.3,1748.7 696.6,1750C699.9,1751.3 701.6,1750.8 703.3,1747.4C705,1744 704.1,1734.6 706.9,1729.4C709.6,1724.2 714.2,1719.7 719.8,1716.5C725.4,1713.3 734.8,1710.7 740.4,1710.3C746,1709.9 749,1710.4 753.3,1714C757.6,1717.6 759.8,1723.4 766.2,1732C772.7,1740.6 782.5,1753 792,1765.5C801.5,1778 813.4,1793.8 822.9,1806.7C832.4,1819.6 841,1834.2 848.7,1842.8C856.4,1851.3 861.6,1853.7 869.3,1858C877,1862.3 888.6,1864.7 895,1868.6C901.4,1872.5 906.2,1877.5 907.9,1881.4C909.6,1885.3 909.3,1888.8 905.4,1891.8C901.5,1894.8 891.6,1898 884.7,1899.5C877.8,1901 870,1902.2 864,1900.5C858,1898.8 855.6,1896.1 848.7,1889C841.9,1881.9 831.5,1869.2 822.9,1858C814.3,1846.8 804.7,1832.3 797,1822C789.3,1811.7 782.5,1801.6 776.5,1796.4C770.5,1791.2 766.1,1789.7 761,1791C755.9,1792.3 751.6,1798 745.6,1804C739.6,1810 730.6,1820.2 725,1827C719.4,1833.8 712,1845 712,1845C712,1845 718.5,1855.2 725,1863.4C731.5,1871.6 742.1,1884.6 750.7,1894C759.3,1903.4 767.9,1912.7 776.5,1920C785.1,1927.3 796.3,1932.8 802.3,1938C808.3,1943.2 811.8,1947.5 812.6,1951C813.5,1954.5 812.6,1957.3 807.4,1958.8C802.2,1960.3 790.2,1961.3 781.6,1960C773,1958.7 763.6,1956 755.9,1951C748.2,1946 741.3,1937.7 735.3,1930C729.3,1922.3 725.8,1913.1 719.8,1904.6C713.8,1896.1 704.8,1885 699.2,1879C693.6,1873 693.2,1869.9 686.3,1868.6C679.4,1867.3 667.9,1871.8 658,1871C648.1,1870.2 636.5,1864 627,1864C617.5,1864 608.7,1866.8 601,1871C593.3,1875.2 586.6,1881.7 580.6,1889C574.6,1896.3 570.1,1906.4 565,1915C559.9,1923.6 556.5,1931.7 549.7,1940.7C542.9,1949.7 532.6,1960.8 524,1969C515.4,1977.2 505.6,1984.5 498,1989.7C490.4,1994.9 486.6,1996.3 478.6,2000C470.6,2003.7 458.9,2008.2 450,2012C441.1,2015.8 432.8,2020.4 424.9,2022.9C417,2025.4 410.3,2026.2 402.9,2027.1C395.4,2028.1 387.6,2028.8 380,2028.6C372.4,2028.3 363.3,2026.9 357.1,2025.7C351,2024.5 342.9,2021.4 342.9,2021.4C342.9,2021.4 340.5,2026.9 338.6,2031.4C336.7,2036 333.8,2042.9 331.4,2048.6C329,2054.3 326,2058.1 324.3,2065.7C322.6,2073.3 322.1,2085.7 321.4,2094.3C320.7,2102.9 320.5,2110.2 320,2117.1C319.5,2124 320.5,2131.7 318.6,2135.7C316.7,2139.8 312,2139.9 308.6,2141.4C305.1,2143 299.7,2145.3 297.7,2145.1C295.7,2145 296.6,2140.6 296.6,2140.6C296.6,2140.6 296.8,2144.5 295.7,2145.1C294.6,2145.8 291.9,2145.1 290,2144.3C288.1,2143.4 285.5,2142.6 284.3,2140C283.1,2137.4 282.4,2132.1 282.9,2128.6C283.3,2125 285.8,2121.9 287.1,2118.6C288.5,2115.2 290.4,2113.1 290.9,2108.6C291.3,2104 289.7,2097.1 290,2091.4C290.3,2085.7 291.2,2079 292.9,2074.3C294.5,2069.5 297.1,2068.1 300,2062.9C302.9,2057.6 307.1,2049 310,2042.9C312.9,2036.7 315.4,2031.4 317.1,2025.7C318.9,2020 319.9,2013.6 320.6,2008.6C321.3,2003.6 322,1998.6 321.4,1995.7C320.9,1992.9 318.7,1991 317.1,1991.4C315.6,1991.9 313.9,1994.8 312,1998.6C310.1,2002.4 308.7,2010.5 305.7,2014.3C302.8,2018.1 299.5,2020.2 294.3,2021.4C289,2022.6 280.2,2022.1 274.3,2021.4C268.3,2020.7 262.1,2017.4 258.6,2017.1C255,2016.9 255,2016.7 252.9,2020C250.7,2023.3 248.1,2030.5 245.7,2037.1C243.3,2043.8 240.5,2052.4 238.6,2060C236.7,2067.6 234.5,2075.7 234.3,2082.9C234,2090 236.4,2096.2 237.1,2102.9C237.9,2109.5 237.6,2117.1 238.6,2122.9C239.5,2128.6 242.9,2131.9 242.9,2137.1C242.9,2142.4 241,2149.3 238.6,2154.3C236.2,2159.3 232.1,2164.2 228.6,2167.1C225,2170.1 220.1,2172.2 217.1,2172C214.2,2171.8 212.3,2170.1 210.9,2165.7C209.4,2161.3 209.4,2152.9 208.6,2145.7C207.7,2138.6 206.6,2130 205.7,2122.9C204.9,2115.7 203,2109.5 203.4,2102.9C203.9,2096.2 206.3,2091.4 208.6,2082.9C210.9,2074.3 214.3,2061.9 217.1,2051.4C220,2041 223.6,2029.5 225.7,2020C227.9,2010.5 228.3,2001 230,1994.3C231.7,1987.6 232.6,1985.2 235.7,1980C238.8,1974.8 246.3,1968.6 248.6,1962.9C250.9,1957.1 250.1,1953.3 249.4,1945.7C248.7,1938.1 246.1,1926.7 244.3,1917.1C242.5,1907.6 240.7,1896.7 238.6,1888.6C236.4,1880.5 233.3,1875.7 231.4,1868.6C229.5,1861.4 226.9,1854.3 227.1,1845.7C227.4,1837.1 231.2,1825.7 232.9,1817.1C234.5,1808.6 236.3,1798.8 237.1,1794.3C238,1789.8 238.3,1793.5 238,1790C237.7,1786.5 236.7,1778.7 235.4,1773C234.1,1767.3 231.7,1765.2 230.3,1756C228.9,1746.8 229.5,1727 226.8,1718C224.1,1709 218.5,1706.6 214,1702C209.5,1697.4 202.8,1693.5 199.6,1690.5C196.3,1687.6 195.6,1687.1 194.4,1684.3C193.2,1681.6 192.7,1677.5 192.4,1674C192,1670.6 191.7,1667.1 192.4,1663.7C193.1,1660.3 194.6,1656.5 196.5,1653.4C198.4,1650.3 202,1647.9 203.7,1645.2C205.4,1642.4 206.8,1639.7 206.8,1636.9C206.8,1634.2 204.7,1631.8 203.7,1628.7C202.7,1625.6 201,1621.4 200.6,1618.4C200.3,1615.3 200.8,1613.2 201.6,1610.1C202.5,1607 204.1,1603.2 205.8,1599.8C207.5,1596.4 210.6,1592.9 212,1589.5C213.3,1586 214.2,1583 214,1579.2C213.8,1575.4 212.6,1570.9 210.9,1566.8C209.2,1562.7 207,1558 203.7,1554.4C200.4,1550.8 196.8,1548.1 191.3,1545.2C185.8,1542.2 177.6,1539.3 170.7,1536.9C163.8,1534.5 157,1532.8 150.1,1530.7C143.2,1528.7 135.7,1527.1 129.5,1524.5C123.3,1522 117.5,1518.9 113,1515.3C108.5,1511.6 105.4,1507.4 102.7,1502.9C99.9,1498.4 98,1494.3 96.5,1488.5C94.9,1482.6 94,1475.4 93.4,1467.8C92.8,1460.3 92.8,1451.3 92.8,1443.1C92.8,1434.8 93.4,1418.4 93.4,1418.4Z"/>
<path d="M525.4,1107.5C526.9,1106.6 529.3,1107.9 532.2,1110.2C535.2,1112.5 539.8,1118.6 543.2,1121.2C546.7,1123.9 548,1125.2 552.9,1126.2C557.7,1127.2 572.1,1127.3 572.1,1127.3C572.1,1127.3 574.6,1121.1 576.2,1118.5C577.8,1115.9 579.4,1112.8 581.7,1111.6C584,1110.5 587.2,1110 590,1111.6C592.7,1113.2 594.5,1119.4 598.2,1121.2C601.9,1123.1 606.9,1121.2 612,1122.6C617,1124 623,1126 628.5,1129.5C634,1132.9 638.5,1138.2 644.9,1143.2C651.4,1148.3 660.5,1154.7 666.9,1159.7C673.4,1164.8 677.9,1170.6 683.4,1173.5C688.9,1176.3 693.5,1174.8 699.9,1176.8C706.3,1178.7 715.1,1184 721.9,1185C728.8,1186.1 733.4,1183.2 741.2,1183.1C749,1183 759.5,1184.9 768.7,1184.5C777.8,1184 787,1180.7 796.2,1180.3C805.3,1180 814.9,1180.4 823.6,1182.3C832.3,1184.1 840.6,1187.3 848.4,1191.3C856.2,1195.4 864,1201.6 870.4,1206.5C876.8,1211.3 881.8,1214.7 886.9,1220.2C891.9,1225.7 897,1234 900.6,1239.5C904.3,1244.9 907.7,1250 908.9,1253.2C910,1256.4 909.3,1256.9 907.5,1258.7C905.7,1260.5 901.3,1262.8 897.9,1264.2C894.4,1265.6 890.5,1266.7 886.9,1266.9C883.2,1267.2 879.5,1266.6 875.9,1265.6C872.2,1264.6 869,1261.8 864.9,1260.9C860.8,1260 855.7,1261.4 851.1,1260.1C846.6,1258.8 844.3,1256.6 837.4,1253.2C830.5,1249.8 817.7,1243.1 809.9,1239.5C802.1,1235.8 796.2,1233.3 790.7,1231.2C785.2,1229.1 776.9,1227.1 776.9,1227.1C776.9,1227.1 780.3,1243.8 782.4,1250.4C784.5,1257.1 787.9,1261.9 789.3,1266.9C790.7,1272 790.9,1275.2 790.7,1280.7C790.4,1286.2 788.6,1293.5 787.9,1299.9C787.2,1306.3 786.5,1312.8 786.5,1319.2C786.5,1325.6 787,1332.5 787.9,1338.4C788.8,1344.4 790,1350.1 792,1354.9C794.1,1359.7 798,1364.3 800.3,1367.3C802.6,1370.3 804.4,1369.3 805.8,1372.8C807.1,1376.2 807.1,1382.2 808.5,1387.9C809.9,1393.6 812.9,1402.3 814,1407.1C815.2,1412 816.5,1414.2 815.4,1416.8C814.2,1419.3 811.3,1421.4 807.1,1422.3C803,1423.2 795.7,1422.9 790.7,1422.3C785.6,1421.7 781,1419.5 776.9,1418.7C772.8,1417.9 770,1418.2 765.9,1417.6C761.8,1417 755,1415.9 752.2,1414.8C749.3,1413.8 748.9,1412.8 748.9,1411.3C748.9,1409.8 750.5,1407.1 752.2,1405.8C753.9,1404.4 758.1,1405.1 759,1403C760,1401 759,1396.8 757.7,1393.4C756.3,1390 754,1386.5 750.8,1382.4C747.6,1378.3 742.8,1372.8 738.4,1368.7C734.1,1364.5 729.7,1360.9 724.7,1357.7C719.6,1354.5 712.8,1352.2 708.2,1349.4C703.6,1346.7 700.2,1344.8 697.2,1341.2C694.2,1337.5 692.6,1330.3 690.3,1327.4C688,1324.6 686.2,1324.5 683.4,1324.1C680.7,1323.8 677,1323.8 673.8,1325.2C670.6,1326.7 666.7,1329.6 664.2,1332.9C661.7,1336.3 660.2,1341.4 658.7,1345.3C657.2,1349.2 656.3,1352.9 655.4,1356.3C654.5,1359.7 655.4,1363.2 653.2,1365.9C651,1368.7 646.8,1371.3 642.2,1372.8C637.6,1374.2 629.8,1375.2 625.7,1374.7C621.6,1374.2 619.4,1372.2 617.5,1370C615.5,1367.9 614.1,1364.3 613.9,1361.8C613.7,1359.3 614.6,1356.7 616.1,1354.9C617.6,1353.1 621.6,1352.6 623,1350.8C624.3,1349 625.7,1345.8 624.3,1343.9C623,1342.1 618.1,1342.5 614.7,1339.8C611.3,1337 607.4,1330.9 603.7,1327.4C600,1324 596.4,1321.9 592.7,1319.2C589,1316.4 584.5,1315.1 581.7,1310.9C579,1306.8 578.1,1299.5 576.2,1294.4C574.4,1289.4 572.6,1286.2 570.7,1280.7C568.9,1275.2 566.8,1266 565.2,1261.4C563.6,1256.9 563.4,1253.9 561.1,1253.2C558.8,1252.5 554.2,1257.1 551.5,1257.3C548.7,1257.5 546,1257.1 544.6,1254.6C543.2,1252.1 544.4,1244.9 543.2,1242.2C542.1,1239.5 540,1239.5 537.7,1238.1C535.4,1236.7 531.1,1236.5 529.5,1234C527.9,1231.4 528.1,1227.1 528.1,1223C528.1,1218.8 529.9,1213.3 529.5,1209.2C529,1205.1 527,1201.9 525.4,1198.2C523.8,1194.5 520.9,1190.9 519.9,1187.2C518.8,1183.6 518.6,1180.3 519,1176.2C519.5,1172.1 521.6,1167.1 522.6,1162.5C523.7,1157.9 525.1,1153.8 525.4,1148.7C525.6,1143.7 524.4,1137.7 524,1132.2C523.6,1126.7 522.9,1119.9 523.2,1115.7C523.4,1111.6 523.8,1108.4 525.4,1107.5Z M611.4,1295.3C611.4,1295.3 619.2,1300.3 623,1302.7C626.7,1305.1 631.7,1306.9 634,1309.6C636.2,1312.2 637.6,1317.6 636.7,1318.6C635.8,1319.7 631.2,1316.2 628.5,1315.9C625.7,1315.5 622.3,1318.2 620.2,1316.4C618.1,1314.7 617.5,1309 616.1,1305.4C614.6,1301.9 611.4,1295.3 611.4,1295.3Z M760.4,1212C760.4,1212 766.4,1216.5 768.7,1218.8C771,1221.1 773.2,1222.7 774.2,1225.7C775.2,1228.7 775.2,1236.2 774.7,1236.7C774.2,1237.2 772.9,1231.4 771.4,1228.5C769.9,1225.5 767.7,1221.6 765.9,1218.8C764.1,1216.1 760.4,1212 760.4,1212Z"/>
<path filter="url(#fur)" d="M1556.9,787.7C1556.1,790.3 1550.6,794.4 1546.8,797.8C1543,801.2 1537.8,804.1 1534.2,807.9C1530.6,811.7 1527.5,815.9 1525.4,820.5C1523.3,825.1 1523.5,829.7 1521.6,835.6C1519.7,841.5 1516.6,850.3 1514.1,855.8C1511.5,861.2 1508.8,864.2 1506.5,868.4C1504.2,872.6 1501.2,875.5 1500.2,881C1499.1,886.4 1499.6,894.8 1500.2,901.1C1500.8,907.4 1503.8,912.9 1504,918.8C1504.2,924.7 1502.3,931 1501.5,936.4C1500.6,941.9 1500.6,947.8 1498.9,951.5C1497.3,955.3 1492.8,955.3 1491.4,959.1C1489.9,962.9 1490.5,968.3 1490.1,974.2C1489.7,980.1 1489.9,988.1 1488.9,994.4C1487.8,1000.7 1485.7,1006.8 1483.8,1012C1481.9,1017.3 1480,1023.6 1477.5,1025.9C1475,1028.2 1471.1,1026.9 1468.7,1025.9C1466.3,1024.8 1463.6,1023.6 1463.1,1019.6C1462.7,1015.6 1464.6,1007.4 1466.2,1001.9C1467.7,996.5 1470.8,991.9 1472.5,986.8C1474.1,981.8 1475.4,976.3 1476.2,971.7C1477.1,967.1 1477.9,961.8 1477.5,959.1C1477.1,956.4 1476,954.5 1473.7,955.3C1471.4,956.2 1467,961 1463.6,964.1C1460.3,967.3 1455.9,967.9 1453.6,974.2C1451.3,980.5 1451,993.5 1449.8,1001.9C1448.5,1010.3 1447.1,1016.6 1446,1024.6C1445,1032.6 1444.7,1044.7 1443.5,1049.8C1442.2,1054.9 1441,1054.6 1438.4,1055.4C1435.9,1056.1 1429.8,1057.4 1428.4,1054.4C1426.9,1051.3 1429.2,1043.4 1429.6,1037.2C1430,1031 1430.9,1017.1 1430.9,1017.1C1430.9,1017.1 1427.1,1027.6 1424.6,1032.2C1422.1,1036.8 1419.3,1042.7 1415.8,1044.8C1412.2,1046.9 1406.9,1046 1403.2,1044.8C1399.4,1043.5 1396,1041 1393.1,1037.2C1390.1,1033.4 1387.2,1026.7 1385.5,1022.1C1383.8,1017.5 1382.8,1014.1 1383,1009.5C1383.2,1004.9 1386.3,1000.3 1386.8,994.4C1387.3,988.5 1387.1,980.1 1386,974.2C1385,968.3 1382.5,965.4 1380.5,959.1C1378.5,952.8 1376.7,943.1 1374.2,936.4C1371.7,929.7 1368.1,923.8 1365.4,918.8C1362.6,913.7 1359.9,910.4 1357.8,906.2C1355.7,902 1353.2,898.2 1352.8,893.6C1352.3,888.9 1354.2,883.9 1355.3,878.4C1356.3,873 1358.6,867.1 1359.1,860.8C1359.5,854.5 1357.4,844.9 1357.8,840.6C1358.2,836.4 1359.9,835.9 1361.6,835.1C1363.3,834.3 1365.8,834.7 1367.9,835.6C1370,836.5 1370.8,839.9 1374.2,840.6C1377.5,841.4 1383.4,841 1388,840.1C1392.7,839.3 1398.5,835.7 1401.9,835.6C1405.3,835.5 1405.1,839.4 1408.2,839.4C1411.4,839.4 1417.7,835.4 1420.8,835.6C1424,835.8 1425.6,838.1 1427.1,840.6C1428.6,843.2 1426.5,849.4 1429.6,850.7C1432.8,852.1 1439.9,849 1446,848.7C1452.1,848.4 1461.5,848.6 1466.2,848.7C1470.8,848.8 1473.7,849.5 1473.7,849.5C1473.7,849.5 1476.9,840 1478.8,835.6C1480.7,831.2 1483.8,827.2 1485.1,823C1486.3,818.8 1485.3,815 1486.3,810.4C1487.4,805.8 1488.9,798 1491.4,795.3C1493.9,792.6 1498.9,795.4 1501.5,794C1504,792.7 1503.1,788.3 1506.5,787.2C1509.9,786.2 1517,788.3 1521.6,787.7C1526.2,787.2 1529.2,784.9 1534.2,783.9C1539.3,783 1548.1,781.5 1551.9,782.2C1555.6,782.8 1557.7,785.1 1556.9,787.7Z M1414.5,981.8C1416.2,981.4 1417.9,987.7 1418.3,991.9C1418.7,996.1 1418.1,1002.4 1417,1007C1416,1011.6 1413.9,1018.3 1412,1019.6C1410.1,1020.8 1407.2,1016.6 1405.7,1014.5C1404.1,1012.4 1402.2,1010.3 1402.7,1007C1403.1,1003.6 1406.2,998.6 1408.2,994.4C1410.2,990.2 1412.8,982.2 1414.5,981.8Z"/>
<path d="M1579.6,870.1C1579.6,870.1 1582.9,871.2 1584.6,872.1C1586.3,873.1 1587.6,876.6 1589.7,875.9C1591.8,875.3 1593.4,870 1597.2,868.4C1601,866.7 1607.3,867.3 1612.3,865.8C1617.4,864.4 1621.6,861.5 1627.5,859.5C1633.3,857.6 1640.9,854.7 1647.6,854C1654.3,853.3 1661.1,855 1667.8,855.3C1674.5,855.6 1682.9,854.8 1687.9,855.8C1693,856.7 1694.7,858.3 1698,860.8C1701.4,863.3 1704.7,867.6 1708.1,870.9C1711.5,874.2 1715.5,877.5 1718.2,880.5C1720.9,883.4 1723.3,885.6 1724.5,888.5C1725.7,891.5 1725.9,896.2 1725.2,898.1C1724.6,900 1723.1,900.2 1720.7,899.9C1718.3,899.5 1714.4,897.8 1710.6,896.1C1706.8,894.4 1700.5,888.9 1698,889.8C1695.5,890.6 1696.1,897.6 1695.5,901.1C1694.9,904.7 1695.1,908.5 1694.2,911.2C1693.4,913.9 1690.7,914.1 1690.5,917.5C1690.3,920.9 1692.4,927.4 1693,931.4C1693.6,935.4 1693.5,938.9 1694.2,941.5C1695,944 1697.2,944.4 1697.5,946.5C1697.8,948.6 1697,952.5 1696,954.1C1695,955.6 1693.3,956.5 1691.7,956.1C1690.2,955.6 1687.9,954 1686.7,951.5C1685.4,949.1 1684.8,945.2 1684.2,941.5C1683.5,937.7 1684.4,932.2 1682.9,928.9C1681.4,925.5 1677.7,923.8 1675.3,921.3C1673,918.8 1670.7,913.7 1669,913.7C1667.4,913.7 1665.5,917.9 1665.3,921.3C1665.1,924.7 1667.6,929.7 1667.8,933.9C1668,938.1 1667.8,942.3 1666.5,946.5C1665.3,950.7 1661.9,955.9 1660.2,959.1C1658.5,962.2 1659.2,963.9 1656.4,965.4C1653.7,966.9 1646.1,968 1643.8,967.9C1641.6,967.8 1642,966.1 1643.1,964.6C1644.1,963.2 1647.9,962.1 1650.1,959.1C1652.4,956.1 1655.3,950.3 1656.4,946.5C1657.6,942.7 1657.8,939.6 1657.2,936.4C1656.6,933.3 1654,929.7 1652.7,927.6C1651.3,925.5 1648.9,923.8 1648.9,923.8C1648.9,923.8 1647.4,936 1646.4,941.5C1645.3,946.9 1643.6,951.1 1642.6,956.6C1641.5,962 1642.2,970.8 1640.1,974.2C1638,977.7 1632.9,977 1630,977.2C1627,977.4 1623.8,976.4 1622.4,975.5C1621.1,974.5 1620.9,973.4 1621.9,971.7C1623,970 1627,968.8 1628.7,965.4C1630.5,962 1631.7,956.8 1632.5,951.5C1633.3,946.3 1634,937.5 1633.8,933.9C1633.6,930.3 1633.8,930.3 1631.2,930.1C1628.7,929.9 1621.8,930.3 1618.6,932.6C1615.5,934.9 1614.4,940 1612.3,944C1610.2,948 1607.1,952.4 1606,956.6C1605,960.8 1605.8,965 1606,969.2C1606.2,973.4 1607.5,978.6 1607.3,981.8C1607.1,984.9 1606.5,986.9 1604.8,988.1C1603.1,989.3 1598.7,990.7 1597.2,988.8C1595.7,986.9 1596,981.3 1596,976.7C1596,972.2 1597.1,965.8 1597.2,961.6C1597.3,957.4 1596.3,954.9 1596.7,951.5C1597.1,948.2 1599.4,944.4 1599.7,941.5C1600,938.5 1599.9,934.5 1598.5,933.9C1597,933.3 1593.4,937.7 1590.9,937.7C1588.4,937.7 1584.8,936.6 1583.4,933.9C1581.9,931.2 1582.5,924.7 1582.1,921.3C1581.7,917.9 1581.9,915.8 1580.8,913.7C1579.8,911.6 1577.3,910.8 1575.8,908.7C1574.3,906.6 1572.2,904.1 1572,901.1C1571.8,898.2 1573.1,894 1574.5,891C1576,888.1 1580,886 1580.8,883.5C1581.7,881 1579.8,878.2 1579.6,875.9C1579.4,873.7 1579.6,870.1 1579.6,870.1Z"/>
</g>
</g></defs>
<use href="#art" style="color:#a0569f"/>
<clipPath id="cp"><rect x="479" y="470" width="966" height="359"/><rect x="479" y="877" width="966" height="359"/><rect x="479" y="1284" width="966" height="357"/><rect x="479" y="1690" width="966" height="356"/></clipPath>
<rect x="479" y="470" width="966" height="359" fill="#42628b"/>
<rect x="479" y="877" width="966" height="359" fill="#42628b"/>
<rect x="479" y="1284" width="966" height="357" fill="#42628b"/>
<rect x="479" y="1690" width="966" height="356" fill="#42628b"/>
<g clip-path="url(#cp)">
<use href="#art" style="color:#a577b3"/>
</g>
<rect x="425" y="470" width="54" height="359" fill="#3d7299"/>
<rect x="425" y="877" width="54" height="359" fill="#3d7299"/>
<rect x="425" y="1284" width="54" height="357" fill="#3d7299"/>
<rect x="425" y="1690" width="54" height="356" fill="#3d7299"/>
<rect x="425" y="2046" width="1020" height="53" fill="#3d7299"/>
<g clip-path="url(#c4)">
<clipPath id="c4"><rect x="479" y="1690" width="966" height="356"/></clipPath>
<polyline fill="none" stroke="#f58220" stroke-width="12" stroke-linejoin="miter" stroke-miterlimit="10" points="849.5,1992.2 923.7,1994.9 998,1997.1 1072.2,1992.6 1146.5,1988 1220.7,1983.9 1294.9,1970.5 1369.2,1959.7 1443.4,1943 1465.7,1938"/>
<polyline fill="none" stroke="#e9365a" stroke-width="12" stroke-linejoin="miter" stroke-miterlimit="10" points="849.5,1986 923.7,1984 998,1980.6 1072.2,1967.3 1146.5,1956 1220.7,1939 1294.9,1903.2 1369.2,1860.7 1443.4,1824.1 1465.7,1813.1"/>
<polyline fill="none" stroke="#f48bab" stroke-width="12" stroke-linejoin="miter" stroke-miterlimit="10" points="849.5,1986 923.7,1987.2 998,1985.8 1072.2,1978.4 1146.5,1971.3 1220.7,1964.6 1294.9,1944.1 1369.2,1917.5 1443.4,1876.1 1465.7,1863.7"/>
<polyline fill="none" stroke="#f0489c" stroke-width="12" stroke-linejoin="miter" stroke-miterlimit="10" points="849.5,1979.7 923.7,1977.3 998,1971.8 1072.2,1955.4 1146.5,1936.3 1220.7,1915.1 1294.9,1863.8 1369.2,1803.9 1443.4,1747.1 1465.7,1730.1"/>
</g>
<rect x="551" y="470" width="3" height="1576" fill="#939ba6"/>
<rect x="625" y="470" width="3" height="1576" fill="#939ba6"/>
<rect x="700" y="470" width="3" height="1576" fill="#939ba6"/>
<rect x="774" y="470" width="3" height="1576" fill="#939ba6"/>
<rect x="848" y="470" width="3" height="1576" fill="#939ba6"/>
<rect x="922" y="470" width="3" height="1576" fill="#939ba6"/>
<rect x="996" y="470" width="3" height="1576" fill="#939ba6"/>
<rect x="1071" y="470" width="3" height="1576" fill="#939ba6"/>
<rect x="1145" y="470" width="3" height="1576" fill="#939ba6"/>
<rect x="1219" y="470" width="3" height="1576" fill="#939ba6"/>
<rect x="1293" y="470" width="3" height="1576" fill="#939ba6"/>
<rect x="1368" y="470" width="3" height="1576" fill="#939ba6"/>
<clipPath id="c1"><rect x="479" y="470" width="966" height="359"/></clipPath>
<clipPath id="c2"><rect x="479" y="877" width="966" height="359"/></clipPath>
<clipPath id="c3"><rect x="479" y="1284" width="966" height="357"/></clipPath>
<g clip-path="url(#c1)"><polyline fill="none" stroke="#f8c1d5" stroke-width="12" stroke-linejoin="miter" stroke-miterlimit="10" points="456,805.8 478.3,805.8 552.5,805.8 626.8,805.8 701,751.8 775.3,746.6 849.5,726.8 923.7,683.5 998,692 1072.2,619.3 1146.5,604.4 1220.7,588.8 1294.9,529.5 1369.2,586 1443.4,674.2 1465.7,700.7"/></g>
<g clip-path="url(#c2)"><polyline fill="none" stroke="#f8c1d5" stroke-width="12" stroke-linejoin="miter" stroke-miterlimit="10" points="456,948.7 478.3,941.1 552.5,915.7 626.8,953.7 701,981.5 775.3,1008.4 849.5,1033.9 923.7,1031.6 998,984.7 1072.2,1009.3 1146.5,1027.9 1220.7,1069.7 1294.9,1085.2 1369.2,1065.1 1443.4,1119 1465.7,1135.2"/></g>
<g clip-path="url(#c3)">
<polyline fill="none" stroke="#f48bab" stroke-width="12" stroke-linejoin="miter" stroke-miterlimit="10" points="849.5,1314.8 923.7,1314.8 998,1314.8 1072.2,1321.5 1146.5,1329.5 1220.7,1340.3 1294.9,1347 1369.2,1394.9 1443.4,1424.2 1465.7,1433"/>
<polyline fill="none" stroke="#f58220" stroke-width="12" stroke-linejoin="miter" stroke-miterlimit="10" points="849.5,1314.8 923.7,1314.8 998,1314.8 1072.2,1314.8 1146.5,1321.9 1220.7,1327.4 1294.9,1329.8 1369.2,1358.2 1443.4,1372.5 1465.7,1376.8"/>
<polyline fill="none" stroke="#e9365a" stroke-width="12" stroke-linejoin="miter" stroke-miterlimit="10" points="849.5,1314.8 923.7,1314.8 998,1314.8 1072.2,1333.1 1146.5,1339 1220.7,1379.3 1294.9,1414.1 1369.2,1463.6 1443.4,1477.4 1465.7,1481.5"/>
<polyline fill="none" stroke="#f0489c" stroke-width="12" stroke-linejoin="miter" stroke-miterlimit="10" points="849.5,1314.8 923.7,1316.6 998,1329.6 1072.2,1356.9 1146.5,1362.8 1220.7,1371.6 1294.9,1471.9 1369.2,1542.8 1443.4,1580.9 1465.7,1592.3"/>
</g>
<text x="117.5" y="186.5" font-size="85" class="t" textLength="686.5" lengthAdjust="spacingAndGlyphs">Cause and Effect</text>
<text x="960.5" y="143.7" font-size="25" textLength="756.4" lengthAdjust="spacingAndGlyphs">Wolves were reintroduced to Yellowstone National Park in 1995,</text>
<text x="960.5" y="177" font-size="25" textLength="764.4" lengthAdjust="spacingAndGlyphs">and their return had a major impact on other species in the park,</text>
<text x="960.5" y="210.2" font-size="25" textLength="761.7" lengthAdjust="spacingAndGlyphs">especially elk and aspen. Elk began avoiding areas where wolves</text>
<text x="960.5" y="243.5" font-size="25" textLength="677.5" lengthAdjust="spacingAndGlyphs">could easily prey upon them, such as near riverbanks and</text>
<text x="960.5" y="276.8" font-size="25" textLength="751.1" lengthAdjust="spacingAndGlyphs">especially riverbanks with downed logs, where escape would be</text>
<text x="960.5" y="310.1" font-size="25" textLength="766" lengthAdjust="spacingAndGlyphs">difficult. With decreasing elk presence, aspen flourished in these</text>
<text x="960.5" y="343.3" font-size="25" textLength="745.3" lengthAdjust="spacingAndGlyphs">areas. The effects depicted here are a powerful example of the</text>
<text x="960.5" y="376.6" font-size="25" textLength="723.1" lengthAdjust="spacingAndGlyphs">influence of a keystone predator on an ecological community.</text>
<text x="124" y="498.6" font-size="36" class="b" textLength="267" lengthAdjust="spacingAndGlyphs">Wolf population</text>
<text x="123" y="906.7" font-size="36" class="b" textLength="244.3" lengthAdjust="spacingAndGlyphs">Elk population</text>
<text x="122.2" y="942.5" font-size="28" textLength="190" lengthAdjust="spacingAndGlyphs">(in thousands)</text>
<text x="122.6" y="1311.8" font-size="36" class="b" textLength="197.2" lengthAdjust="spacingAndGlyphs">Percentage</text>
<text x="123.6" y="1353" font-size="36" class="b" textLength="249" lengthAdjust="spacingAndGlyphs">of aspen trees</text>
<text x="123.2" y="1394.6" font-size="36" class="b" textLength="211.8" lengthAdjust="spacingAndGlyphs">grazed upon</text>
<text x="121.2" y="1717.6" font-size="36" class="b" textLength="158.9" lengthAdjust="spacingAndGlyphs">Height of</text>
<text x="123.2" y="1758.8" font-size="36" class="b" textLength="202.6" lengthAdjust="spacingAndGlyphs">aspen trees</text>
<text x="121.4" y="1795.1" font-size="28" textLength="91" lengthAdjust="spacingAndGlyphs">(in cm)</text>
<text x="450.5" y="505.5" font-size="23" class="m">120</text>
<text x="450.5" y="557.1" font-size="23" class="m">100</text>
<text x="450.5" y="609.5" font-size="23" class="m">80</text>
<text x="450.5" y="661.1" font-size="23" class="m">60</text>
<text x="450.5" y="713.5" font-size="23" class="m">40</text>
<text x="450.5" y="765" font-size="23" class="m">20</text>
<text x="450.5" y="817.3" font-size="23" class="m">0</text>
<text x="450.5" y="911" font-size="23" class="m">20</text>
<text x="450.5" y="989.2" font-size="23" class="m">15</text>
<text x="450.5" y="1067.3" font-size="23" class="m">10</text>
<text x="450.5" y="1145.4" font-size="23" class="m">5</text>
<text x="450.5" y="1218.5" font-size="23" class="m">0</text>
<text x="450.5" y="1319.2" font-size="23" class="m">100</text>
<text x="450.5" y="1380.9" font-size="23" class="m">80</text>
<text x="450.5" y="1441.4" font-size="23" class="m">60</text>
<text x="450.5" y="1501.9" font-size="23" class="m">40</text>
<text x="450.5" y="1564.9" font-size="23" class="m">20</text>
<text x="450.5" y="1624.7" font-size="23" class="m">0</text>
<text x="450.5" y="1721" font-size="23" class="m">250</text>
<text x="450.5" y="1782.2" font-size="23" class="m">200</text>
<text x="450.5" y="1843.9" font-size="23" class="m">150</text>
<text x="450.5" y="1905.6" font-size="23" class="m">100</text>
<text x="450.5" y="1967.4" font-size="23" class="m">50</text>
<text x="450.5" y="2028.5" font-size="23" class="m">0</text>
<text x="478.3" y="2082" font-size="23" class="m">1993</text>
<text x="626.8" y="2082" font-size="23" class="m">1995</text>
<text x="775.3" y="2082" font-size="23" class="m">1997</text>
<text x="923.7" y="2082" font-size="23" class="m">1999</text>
<text x="1072.2" y="2082" font-size="23" class="m">2001</text>
<text x="1220.7" y="2082" font-size="23" class="m">2003</text>
<text x="1369.2" y="2082" font-size="23" class="m">2005</text>
<rect x="1473.5" y="1287.5" width="250" height="812" fill="none" stroke="#8f9aa9" stroke-width="3"/>
<rect x="1472" y="1349.5" width="253" height="3" fill="#8f9aa9"/>
<text x="1598" y="1325.6" font-size="25.5" class="b m">Legend</text>
<rect x="1563" y="1432" width="73" height="11.5" fill="#f48bab"/>
<rect x="1563" y="1607" width="73" height="11.5" fill="#f58220"/>
<rect x="1563" y="1754" width="73" height="11.5" fill="#f0489c"/>
<rect x="1563" y="1924.5" width="73" height="11.5" fill="#e9365a"/>
<text x="1598" y="1478.4" font-size="20.5" class="m" textLength="76.6" lengthAdjust="spacingAndGlyphs">Trees in</text>
<text x="1598" y="1503.8" font-size="20.5" class="m" textLength="125" lengthAdjust="spacingAndGlyphs">uplands with</text>
<text x="1598" y="1528.4" font-size="20.5" class="m" textLength="121.7" lengthAdjust="spacingAndGlyphs">downed logs</text>
<text x="1598" y="1653.3" font-size="20.5" class="m" textLength="160.6" lengthAdjust="spacingAndGlyphs">Trees in uplands</text>
<text x="1598" y="1678" font-size="20.5" class="m" textLength="120" lengthAdjust="spacingAndGlyphs">without logs</text>
<text x="1598" y="1799.6" font-size="20.5" class="m" textLength="84" lengthAdjust="spacingAndGlyphs">Trees on</text>
<text x="1598" y="1824.6" font-size="20.5" class="m" textLength="147.5" lengthAdjust="spacingAndGlyphs">riverbanks with</text>
<text x="1598" y="1850" font-size="20.5" class="m" textLength="121.7" lengthAdjust="spacingAndGlyphs">downed logs</text>
<text x="1598" y="1970.9" font-size="20.5" class="m" textLength="84" lengthAdjust="spacingAndGlyphs">Trees on</text>
<text x="1598" y="1995.9" font-size="20.5" class="m" textLength="101.6" lengthAdjust="spacingAndGlyphs">riverbanks</text>
<text x="1598" y="2020.9" font-size="20.5" class="m" textLength="120" lengthAdjust="spacingAndGlyphs">without logs</text>
</svg></body></html>
